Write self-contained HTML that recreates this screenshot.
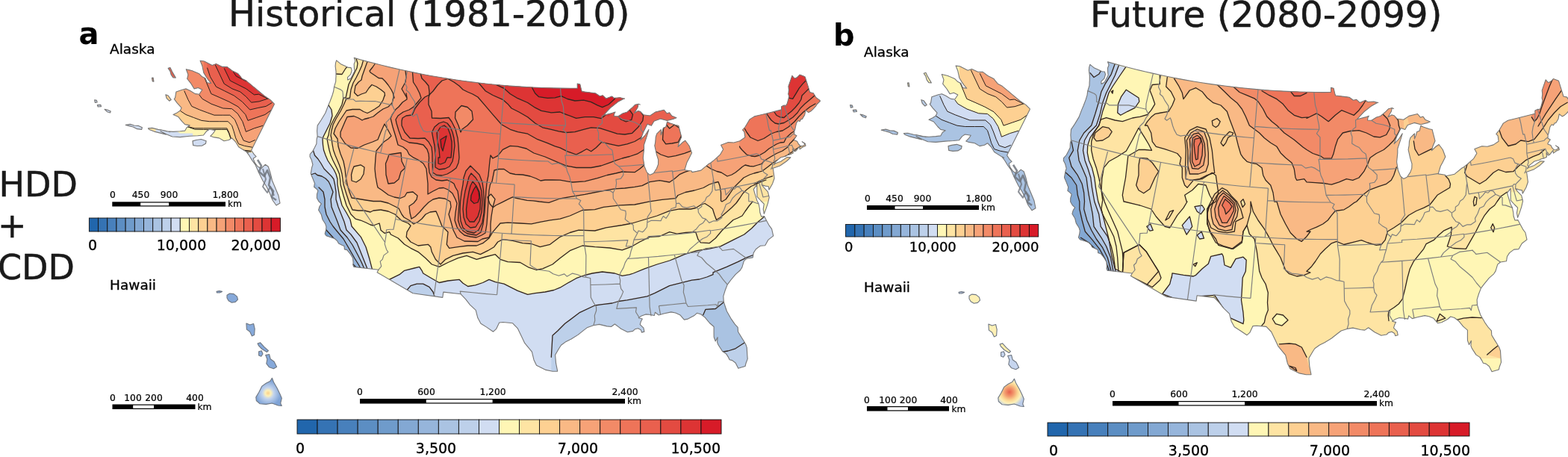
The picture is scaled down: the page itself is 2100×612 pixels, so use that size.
<!DOCTYPE html>
<html lang="en">
<head>
<meta charset="utf-8">
<title>HDD + CDD: Historical (1981-2010) vs Future (2080-2099)</title>
<style>
html,body{margin:0;padding:0;background:#fff;}
body{width:2100px;height:612px;overflow:hidden;}
svg{display:block;font-family:'DejaVu Sans', 'Liberation Sans', sans-serif;}
</style>
</head>
<body>
<svg width="2100" height="612" viewBox="0 0 2100 612">
<rect x="0" y="0" width="2100" height="612" fill="#ffffff"/>
<text x="306.1" y="35.4" font-size="47.4" text-anchor="start" font-weight="normal" fill="#1a1a1a" stroke="#1a1a1a" stroke-width="0.5" stroke-linejoin="round" textLength="537.4" lengthAdjust="spacingAndGlyphs">Historical (1981-2010)</text>
<text x="1460" y="35.5" font-size="47.4" text-anchor="start" font-weight="normal" fill="#1a1a1a" stroke="#1a1a1a" stroke-width="0.5" stroke-linejoin="round" textLength="471.5" lengthAdjust="spacingAndGlyphs">Future (2080-2099)</text>
<text x="105.5" y="59" font-size="40" text-anchor="start" font-weight="bold" fill="#000"  >a</text>
<text x="1116" y="60.5" font-size="40" text-anchor="start" font-weight="bold" fill="#000"  >b</text>
<text x="-1.5" y="262.5" font-size="46" text-anchor="start" font-weight="normal" fill="#1a1a1a" stroke="#1a1a1a" stroke-width="0.5" stroke-linejoin="round" >HDD</text>
<text x="-3" y="318" font-size="46" text-anchor="start" font-weight="normal" fill="#1a1a1a" stroke="#1a1a1a" stroke-width="0.5" stroke-linejoin="round" >+</text>
<text x="-3" y="373.5" font-size="46" text-anchor="start" font-weight="normal" fill="#1a1a1a" stroke="#1a1a1a" stroke-width="0.5" stroke-linejoin="round" >CDD</text>
<text x="147" y="71.7" font-size="18.5" text-anchor="start" font-weight="normal" fill="#000" stroke="#000" stroke-width="0.32" stroke-linejoin="round" >Alaska</text>
<text x="147" y="388" font-size="18.5" text-anchor="start" font-weight="normal" fill="#000" stroke="#000" stroke-width="0.32" stroke-linejoin="round" >Hawaii</text>
<text x="1157" y="75.7" font-size="18.5" text-anchor="start" font-weight="normal" fill="#000" stroke="#000" stroke-width="0.32" stroke-linejoin="round" >Alaska</text>
<text x="1157" y="390.5" font-size="18.5" text-anchor="start" font-weight="normal" fill="#000" stroke="#000" stroke-width="0.32" stroke-linejoin="round" >Hawaii</text>
<g id="conus_a">
<clipPath id="clip_a"><path d="M474.2,77.4L475.8,81.6L474.2,85.8L474.4,91.0L474.9,95.3L472.2,100.5L469.8,104.9L465.7,107.1L465.5,103.7L469.6,99.7L471.2,94.3L470.1,90.6L466.5,90.4L462.5,88.4L456.3,85.7L450.6,80.9L449.5,84.4L449.1,88.6L450.0,95.6L450.0,102.5L449.8,105.0L449.7,109.2L447.5,116.3L446.7,122.0L444.8,128.3L441.9,136.0L439.5,141.6L435.8,151.3L430.1,160.8L425.2,168.1L424.6,175.5L425.1,182.6L424.1,186.6L423.9,192.6L421.3,197.8L418.9,202.3L415.2,206.5L415.0,209.8L417.3,214.3L418.9,220.5L417.6,224.4L416.2,232.6L419.1,239.5L421.4,245.4L420.6,250.3L423.9,253.0L425.9,255.3L424.5,260.1L424.4,265.2L427.1,269.9L430.4,272.9L428.0,276.5L426.6,281.3L430.4,287.5L432.0,294.0L435.7,299.7L437.0,303.8L436.5,308.0L435.2,313.1L437.0,315.8L444.3,318.2L448.2,319.5L451.6,322.6L453.5,326.0L458.5,328.4L461.0,329.5L461.4,333.9L464.7,334.6L467.4,337.8L469.6,340.7L472.6,345.8L473.1,351.8L472.8,354.8L473.9,357.4L507.0,361.2L505.1,364.7L553.0,392.7L592.8,398.4L593.8,391.1L617.1,393.8L623.8,400.9L629.4,408.1L637.2,415.4L639.8,425.6L643.9,433.2L651.7,438.1L660.6,444.2L664.5,440.7L668.7,432.0L673.8,431.5L686.6,432.8L693.4,439.9L698.7,451.0L702.7,459.4L712.4,471.2L715.0,481.9L718.5,489.3L731.0,495.4L740.0,497.2L746.7,497.1L744.6,486.7L743.6,475.3L748.6,466.7L751.5,462.3L758.1,457.4L764.7,454.2L774.1,448.4L781.3,442.6L786.9,438.4L794.8,435.8L802.6,434.4L812.8,436.9L818.5,437.5L823.4,434.0L828.6,437.9L831.6,440.2L836.1,442.4L840.5,444.7L847.7,443.4L850.4,440.8L854.7,439.7L858.4,441.9L859.4,445.1L862.9,444.1L861.9,439.2L857.2,434.6L858.4,430.4L860.3,427.0L855.2,425.7L859.3,422.9L864.8,420.9L869.8,421.3L876.4,422.5L877.4,418.2L881.3,421.2L882.0,422.0L889.0,420.0L898.8,417.9L904.6,419.0L910.7,421.7L916.3,428.1L921.4,427.1L929.5,422.8L933.4,419.3L938.6,420.8L944.2,425.1L950.3,432.5L956.1,437.5L956.1,447.4L956.2,451.5L958.2,457.0L961.1,451.7L960.6,458.4L961.8,461.5L963.7,464.5L967.6,470.5L972.6,473.9L975.5,478.4L977.1,481.8L980.7,482.6L985.1,486.0L988.8,493.3L991.0,492.6L998.0,490.5L999.1,486.2L1001.2,480.6L1000.8,475.2L1000.2,465.4L998.9,461.5L996.8,457.7L992.6,451.0L988.5,444.2L988.1,438.3L984.2,434.1L979.5,427.4L973.4,416.7L970.7,408.8L969.2,403.7L968.8,396.6L971.2,388.8L974.2,381.1L975.9,378.9L978.8,375.0L985.2,367.3L991.3,362.0L993.7,358.3L996.4,349.4L1000.2,346.2L1008.2,344.9L1009.2,338.6L1012.3,333.8L1018.3,329.2L1024.7,328.8L1029.0,321.1L1035.7,315.9L1033.6,306.6L1030.3,302.2L1026.6,295.4L1024.2,290.8L1023.6,289.6L1019.7,290.1L1017.8,284.5L1017.4,279.5L1016.1,273.0L1013.8,268.4L1010.5,257.8L1009.3,253.3L1013.8,247.3L1013.8,253.2L1014.0,263.3L1019.1,269.0L1023.3,273.2L1022.2,280.2L1023.3,286.4L1026.0,279.4L1028.4,272.1L1030.2,264.4L1028.4,256.8L1023.1,251.2L1020.3,247.6L1025.2,249.1L1029.3,249.8L1029.9,254.3L1034.6,245.9L1037.1,238.7L1035.5,226.8L1034.4,224.9L1035.4,225.2L1044.6,222.0L1053.3,216.0L1058.9,210.9L1054.0,210.6L1045.7,216.2L1038.7,218.8L1036.0,220.8L1038.8,216.5L1042.5,213.4L1045.7,210.8L1052.2,209.2L1055.0,207.6L1057.9,207.0L1062.2,205.1L1061.7,199.4L1063.9,202.7L1065.1,202.6L1066.7,201.5L1068.1,199.4L1070.7,196.1L1071.1,199.9L1075.0,197.0L1079.0,195.2L1078.3,192.3L1074.2,189.7L1077.0,191.8L1077.9,193.6L1074.6,195.6L1072.0,195.4L1069.5,193.0L1067.6,189.3L1063.6,187.7L1064.0,185.9L1067.0,181.7L1063.8,180.0L1063.8,175.4L1064.6,173.8L1065.4,170.2L1066.6,164.7L1068.8,161.5L1071.2,162.6L1072.8,159.6L1074.4,159.4L1077.7,153.9L1078.9,147.5L1082.9,150.6L1086.1,148.8L1088.5,146.7L1092.6,142.1L1094.2,139.5L1098.5,135.4L1097.7,134.1L1093.0,130.8L1089.3,124.7L1084.5,123.6L1083.7,120.4L1078.2,102.9L1076.3,102.0L1071.0,100.1L1068.6,102.7L1065.7,104.8L1064.0,104.9L1060.9,101.4L1055.9,115.7L1056.5,120.6L1055.8,125.9L1056.7,129.1L1055.9,132.7L1054.4,138.2L1052.8,141.2L1050.0,141.1L1046.6,142.8L1046.5,146.9L1025.6,152.2L1010.3,155.9L1004.0,159.9L1002.3,162.8L998.3,169.5L994.5,174.0L996.8,176.6L997.8,183.9L990.9,188.7L982.8,191.0L975.4,190.6L965.5,194.2L968.6,200.0L964.4,207.2L956.4,214.4L951.5,218.2L948.7,219.8L938.8,228.1L933.1,229.4L926.8,230.6L926.3,229.0L916.9,227.8L917.9,224.4L920.0,217.4L922.9,212.0L926.5,204.8L923.0,195.3L917.8,188.2L914.0,190.8L908.1,196.5L909.7,190.5L911.6,186.1L912.7,183.5L910.0,173.0L908.8,168.2L905.0,167.6L896.8,164.8L893.6,163.0L891.8,170.0L888.4,171.2L886.8,176.7L885.2,180.7L885.2,173.6L879.7,179.1L878.2,183.7L877.8,190.0L876.8,195.1L879.4,206.8L881.7,214.2L881.5,220.3L879.5,225.5L875.1,232.2L870.4,234.3L866.4,230.9L863.0,222.7L861.3,211.6L862.5,199.8L862.5,194.0L866.7,181.2L868.9,173.6L863.8,181.5L857.8,187.4L861.4,177.6L867.0,166.3L872.4,168.3L875.9,162.2L884.8,159.1L893.5,161.5L902.7,159.1L906.0,157.8L899.9,155.3L896.5,150.8L893.2,152.0L889.2,147.2L877.7,150.1L870.5,155.0L861.8,153.7L857.7,149.4L854.5,148.6L849.6,151.4L854.1,143.7L855.1,139.2L857.2,140.1L855.1,139.2L850.4,140.4L847.0,143.8L839.6,150.2L834.3,151.7L827.5,155.9L822.2,155.7L822.7,152.2L824.0,149.9L819.5,151.6L808.3,154.4L812.9,149.3L817.4,144.5L827.4,136.6L834.4,132.7L836.5,131.9L835.2,132.0L830.7,130.7L822.3,131.2L819.4,128.9L811.8,132.0L807.2,127.8L803.3,128.8L797.7,124.9L792.7,124.3L779.4,122.6L778.5,120.2L776.8,112.9L773.2,112.0L773.3,118.1L764.0,118.2L753.0,118.1L742.0,117.9L731.0,117.7L720.1,117.3L709.1,116.7L698.2,116.1L687.2,115.4L676.3,114.5L665.4,113.5L654.4,112.5L643.5,111.2L632.6,109.9L621.8,108.5L610.9,107.0L600.1,105.3L589.2,103.5L578.4,101.7L567.6,99.7L556.9,97.6L546.1,95.3L535.4,93.0L524.7,90.6L514.1,88.0L503.4,85.3L492.8,82.6L482.2,79.7Z"/></clipPath>
<g clip-path="url(#clip_a)">
<rect x="410" y="72" width="694" height="430" fill="#d1ddf2"/>
<path d="M419.0,200.0L421.5,208.0L426.0,213.0L430.0,219.0L434.0,226.0L439.0,231.0L444.0,236.0L447.0,240.0L448.5,247.0L450.0,257.0L450.0,267.0L453.0,277.0L457.0,287.0L461.0,297.0L464.0,308.0L470.0,314.0L478.0,325.0L484.0,340.0L488.0,350.0L492.0,360.0L494.0,366.0L492.0,420.0L380.0,420.0L380.0,190.0Z" fill="#bdd0ea"/>
<path d="M738.3,478.3L739.2,463.3L740.0,449.2L746.7,443.3L756.7,433.3L776.7,418.3L796.7,409.0L806.7,407.7L820.0,406.0L828.3,403.5L840.0,401.8L853.3,399.3L866.7,396.8L876.7,392.7L886.7,387.7L896.7,382.7L906.7,380.2L916.7,377.7L926.7,375.2L936.7,374.0L946.7,371.0L955.0,367.7L955.0,364.8L973.3,357.3L988.3,350.7L1000.0,344.8L1010.0,341.0L1100.0,341.0L1100.0,620.0L738.3,620.0Z" fill="#bdd0ea"/>
<path d="M545.0,388.5L550.0,382.7L558.3,380.2L566.7,380.2L575.0,384.3L580.0,391.0L582.3,397.7L585.0,420.0L540.0,420.0Z" fill="#bdd0ea"/>
<path d="M416.0,234.0L422.0,232.0L425.0,234.5L431.0,236.0L436.0,239.0L440.0,243.0L442.0,247.0L446.0,257.0L443.0,267.0L444.0,277.0L448.0,287.0L452.0,297.0L456.0,308.0L465.0,318.0L472.0,328.0L479.0,341.0L484.0,351.0L488.0,360.0L490.0,366.0L492.0,420.0L380.0,420.0L380.0,190.0Z" fill="#aac3e2"/>
<path d="M941.7,421.8L945.0,414.3L958.3,413.5L969.2,404.7L1010.0,404.0L1010.0,520.0L935.0,520.0L935.0,422.0Z" fill="#aac3e2"/>
<path d="M963.0,472.0L975.0,470.0L985.0,466.8L997.0,459.0L1010.0,459.0L1010.0,520.0L950.0,520.0Z" fill="#bdd0ea"/>
<path d="M427.0,251.0L433.0,257.0L435.0,267.0L435.0,277.0L437.0,287.0L442.0,297.0L446.0,303.0L450.0,308.0L460.0,320.0L467.0,332.0L475.0,346.0L480.0,354.0L484.0,361.0L486.0,366.0L492.0,420.0L380.0,420.0L380.0,190.0Z" fill="#96b5db"/>
<path d="M437.0,308.0L446.0,318.0L455.0,330.0L463.0,342.0L471.0,352.0L477.0,358.0L480.0,362.0L482.0,366.0L492.0,420.0L380.0,420.0L380.0,190.0Z" fill="#83a8d3"/>
<path d="M444.0,324.0L453.0,336.0L461.0,346.0L468.0,354.0L474.0,360.0L476.0,366.0L492.0,420.0L380.0,420.0L380.0,190.0Z" fill="#6f9bcb"/>
<path d="M439.5,140.0L440.5,141.5L444.0,147.0L445.0,155.0L442.0,165.0L437.0,175.0L433.0,183.0L432.0,186.0L432.5,194.0L433.5,201.0L436.0,208.0L439.0,215.0L443.0,221.0L447.0,227.0L450.0,233.0L452.0,240.0L452.0,247.0L454.5,262.0L458.0,275.0L464.0,285.0L469.0,294.0L471.0,303.0L483.3,317.3L490.0,330.7L495.0,347.3L498.7,361.5L505.0,372.0L515.0,378.0L520.8,374.7L535.0,367.7L541.7,362.3L555.0,359.0L561.7,357.3L565.0,362.3L566.7,366.0L575.0,371.0L585.0,376.8L588.3,378.5L600.0,376.0L615.0,374.3L620.0,379.3L626.7,383.5L636.7,381.8L646.7,378.5L655.0,374.3L663.3,377.7L675.0,380.2L683.3,384.3L693.3,389.3L706.7,394.3L716.7,392.7L730.0,391.0L741.7,388.5L750.0,385.2L760.0,379.3L771.7,372.7L783.3,368.5L793.3,366.0L806.7,364.0L823.3,366.0L833.3,369.3L843.3,367.7L848.3,366.0L863.3,359.8L880.0,354.0L896.7,349.0L905.0,345.7L916.7,340.7L933.3,335.7L950.0,333.2L965.0,329.8L983.3,320.7L996.7,314.0L1006.7,305.7L1015.0,297.3L1025.0,289.0L1180.0,290.0L1180.0,40.0L380.0,40.0L380.0,145.0Z" fill="#fff6b5"/>
<path d="M477.0,78.5L479.0,85.0L478.0,91.0L474.0,99.0L470.0,107.0L467.0,113.0L465.0,122.0L463.0,131.2L460.0,131.0L458.0,140.0L453.0,150.0L447.0,160.0L443.0,168.0L441.0,175.0L440.0,181.0L438.0,186.0L439.5,194.0L441.0,201.0L443.0,208.0L446.0,215.0L449.0,221.0L452.0,227.0L454.5,233.0L455.5,240.0L456.0,247.0L460.0,262.0L464.0,275.0L470.0,287.0L476.0,293.0L483.0,295.0L490.0,298.0L496.0,301.0L500.0,302.0L508.0,299.0L509.0,303.0L510.0,308.2L515.0,312.3L521.7,310.7L523.3,314.0L533.3,319.0L541.7,327.3L550.0,332.3L560.0,337.3L570.0,345.7L578.3,354.0L588.3,357.3L600.0,351.5L613.3,345.7L625.0,342.3L638.3,347.3L650.0,344.0L663.3,340.7L670.0,347.3L680.0,350.7L696.7,351.5L708.3,358.2L718.3,361.5L726.7,359.8L740.0,354.0L750.0,345.7L763.3,335.7L780.0,329.0L796.7,330.7L816.7,332.0L833.3,334.8L845.0,330.7L856.7,324.0L870.0,317.3L883.3,316.5L896.7,310.7L906.7,313.2L918.3,311.5L931.7,310.7L935.0,320.7L938.3,324.8L950.0,325.7L958.3,319.0L966.7,309.0L975.0,301.0L982.0,294.5L988.0,292.0L994.0,289.0L998.0,283.0L1003.0,276.0L1008.0,270.0L1180.0,270.0L1180.0,40.0L477.0,40.0Z" fill="#fee4a3"/>
<path d="M449.5,99.0L458.0,99.5L463.0,91.5L465.0,89.5L470.0,70.0L440.0,70.0L440.0,99.0Z" fill="#fee4a3"/>
<path d="M486.5,80.8L484.5,88.0L481.0,96.0L477.0,104.0L473.0,111.0L470.0,120.0L468.5,131.2L464.0,132.0L460.0,141.0L456.0,149.0L450.0,159.0L446.0,167.0L444.0,175.0L443.0,181.0L444.0,186.0L445.0,193.0L446.5,201.0L449.0,208.0L452.0,215.0L454.5,221.0L456.5,227.0L458.0,233.0L459.0,240.0L460.0,247.0L464.0,260.0L468.0,272.0L472.0,281.0L480.0,282.0L488.0,282.0L496.0,284.0L500.0,282.0L510.0,281.0L520.0,283.0L529.0,287.0L533.0,291.0L538.3,295.7L546.7,299.0L550.0,302.3L545.0,310.7L544.2,317.3L550.0,324.0L560.0,329.0L573.3,327.3L576.7,330.7L578.3,337.3L583.3,347.3L590.0,354.0L596.7,347.3L606.7,342.3L620.0,339.0L633.3,337.3L643.3,340.7L653.3,335.7L661.7,330.7L666.7,324.0L673.3,320.7L686.7,322.3L700.0,325.7L711.7,326.5L723.3,330.7L736.7,327.3L750.0,317.3L763.3,311.5L775.0,308.2L796.7,309.0L811.7,304.8L833.3,301.5L846.7,299.0L863.3,294.0L880.0,289.0L896.7,282.3L910.0,279.8L925.0,280.0L932.0,278.5L939.0,274.0L944.0,272.5L951.0,277.0L954.5,280.0L957.0,288.0L959.5,294.5L965.0,291.0L972.0,285.0L980.0,278.0L986.0,272.0L991.0,265.0L995.0,259.0L1000.0,254.0L1006.0,249.5L1012.0,247.0L1018.0,244.0L1026.0,241.0L1010.0,246.0L1018.0,242.0L1025.0,239.0L1034.5,235.8L1180.0,235.8L1180.0,40.0L486.5,40.0Z" fill="#fdd092"/>
<path d="M492.0,82.5L490.0,88.0L487.5,95.0L485.0,102.0L484.0,107.0L480.0,110.0L476.0,115.0L474.5,124.0L479.0,128.5L484.0,126.0L490.0,124.0L494.0,118.0L498.0,113.5L504.0,116.0L510.0,120.0L515.0,124.0L515.5,128.0L515.0,128.0L513.0,134.0L508.0,142.0L502.0,146.0L496.0,149.5L492.0,151.5L487.0,149.5L482.0,146.5L472.0,146.5L464.0,148.0L460.0,154.0L454.0,163.0L449.0,172.0L447.0,179.0L452.0,186.0L453.0,196.0L456.0,206.0L460.0,216.0L462.0,226.0L463.0,236.0L465.0,247.0L468.0,257.0L471.0,265.0L478.0,266.0L490.0,268.0L500.0,269.5L510.0,269.5L520.0,272.0L528.0,276.0L534.0,279.0L538.0,287.0L541.0,291.0L548.0,295.0L554.0,300.0L560.0,297.0L565.0,293.0L570.0,287.0L576.0,284.0L584.0,283.0L587.0,290.0L592.0,303.0L593.3,304.0L600.0,310.7L598.3,327.3L601.7,332.3L613.3,330.7L626.7,329.0L638.3,329.0L646.7,325.7L655.0,319.0L660.0,310.7L670.0,299.0L680.0,298.2L696.7,299.0L711.7,299.8L723.3,297.3L736.7,294.8L750.0,293.2L763.3,289.0L780.0,281.5L796.7,280.7L808.3,277.3L830.0,274.8L850.0,274.0L870.0,269.8L886.7,267.3L905.0,265.7L908.0,261.5L918.0,257.5L930.0,255.0L942.0,251.5L950.0,247.0L956.0,245.0L962.0,243.5L964.0,249.0L965.5,258.0L965.5,269.0L967.0,270.0L972.0,267.0L977.0,260.0L983.0,251.0L988.0,246.0L994.0,240.0L996.0,238.0L1004.0,234.0L1010.0,232.0L1016.0,230.5L1021.0,229.0L1029.0,223.0L1034.0,219.0L1040.0,215.0L1047.0,211.5L1054.0,208.0L1060.0,204.0L1068.0,198.5L1073.0,195.5L1180.0,195.5L1180.0,40.0L492.0,40.0Z" fill="#f9b985"/>
<path d="M502.5,85.0L499.0,90.0L495.0,95.0L496.0,97.0L502.0,101.0L507.0,104.5L512.0,105.0L516.0,109.0L520.0,114.0L524.0,120.0L527.0,126.0L528.0,131.2L526.5,125.0L527.0,131.0L525.0,138.0L520.0,143.0L513.0,146.0L506.0,151.0L500.0,156.0L494.0,158.0L488.0,159.5L485.0,161.0L480.0,158.0L474.0,155.5L465.0,156.5L462.0,163.0L459.0,170.0L456.0,177.0L456.0,183.0L458.0,186.0L462.0,192.0L470.0,198.0L479.0,198.5L488.0,194.0L499.0,190.0L506.0,187.0L510.0,177.0L515.0,166.0L519.0,173.0L524.0,182.0L520.0,186.0L514.0,190.0L504.0,202.0L503.0,211.0L502.0,226.0L503.0,236.0L505.0,247.2L506.0,251.0L512.0,255.0L520.0,261.0L528.0,264.0L536.0,265.5L542.0,263.0L545.0,258.0L553.0,257.0L559.0,262.0L558.0,267.0L554.0,272.0L548.0,276.0L549.0,285.0L551.0,293.0L556.0,290.0L562.0,284.0L568.0,277.0L574.0,271.0L580.0,267.0L588.0,265.0L596.0,266.0L603.0,270.0L604.0,277.0L601.0,287.0L604.0,297.0L607.0,308.0L612.0,318.0L622.0,323.0L640.0,323.5L646.0,320.0L655.0,318.0L657.0,312.0L657.0,300.0L658.0,290.0L659.5,281.0L660.0,278.0L664.0,275.0L672.5,270.8L680.8,266.7L686.7,263.8L690.0,265.0L697.5,266.7L705.8,268.3L714.0,268.8L722.5,270.0L735.0,271.3L750.0,266.0L763.3,263.7L783.3,260.3L800.0,257.0L818.3,253.7L823.3,252.8L836.7,252.0L850.0,250.3L860.0,248.7L870.0,243.7L883.3,241.7L896.7,244.0L903.3,239.5L910.0,233.7L916.7,230.7L923.3,228.3L925.0,200.0L925.0,40.0L502.0,40.0Z" fill="#f6a277"/>
<path d="M946.0,222.0L952.0,226.0L960.0,229.5L966.0,231.0L974.0,236.0L980.0,234.0L985.0,231.0L990.0,227.0L994.0,223.5L998.0,221.0L1004.0,222.5L1009.0,222.8L1015.0,221.0L1020.0,219.5L1024.0,215.0L1033.0,209.5L1040.0,205.5L1048.0,202.0L1055.0,197.0L1058.0,192.0L1059.0,191.2L1064.0,186.0L1067.0,183.0L1100.0,183.0L1100.0,40.0L940.0,40.0L940.0,222.0Z" fill="#f6a277"/>
<path d="M543.0,95.0L544.0,103.0L543.0,110.0L538.0,119.0L542.0,126.0L545.0,131.2L544.0,125.0L545.0,133.0L539.0,137.0L534.0,143.0L530.0,146.5L525.0,154.0L523.0,159.0L523.0,158.0L526.0,170.0L530.0,183.0L533.0,194.0L540.0,197.0L545.0,201.0L548.0,207.0L554.0,211.2L560.0,214.0L567.0,219.0L571.0,226.0L572.0,236.0L573.0,246.0L573.0,260.0L580.0,256.0L588.0,252.0L594.0,251.5L600.0,254.0L606.0,259.0L610.0,267.0L612.0,272.2L610.0,285.0L609.0,295.0L612.0,304.0L616.0,310.0L622.0,315.0L630.0,317.0L638.0,318.0L645.0,315.0L650.0,312.0L652.0,300.0L653.0,285.0L654.0,270.0L655.0,255.0L656.5,247.0L659.0,243.0L660.0,238.0L662.0,228.0L668.0,226.5L675.0,226.5L683.0,232.0L690.0,233.5L700.0,234.0L710.0,236.0L718.0,239.0L724.0,242.0L730.0,241.0L740.0,241.0L750.0,241.2L766.7,244.0L783.3,242.8L800.0,238.7L813.3,234.5L825.0,232.0L833.3,230.0L840.0,230.3L850.0,230.7L856.7,226.2L864.7,219.5L880.0,215.0L880.0,40.0L543.0,40.0Z" fill="#f28a67"/>
<path d="M877.5,202.3L885.0,207.0L895.0,210.3L905.0,208.7L916.7,205.3L926.7,201.7L935.0,195.0L935.0,140.0L872.0,140.0Z" fill="#f28a67"/>
<path d="M990.5,196.0L991.0,197.5L994.0,201.0L1000.0,207.0L1006.0,209.0L1011.0,209.5L1017.0,208.0L1024.0,204.0L1030.0,199.0L1035.0,196.0L1040.0,193.0L1045.0,191.0L1050.0,190.5L1053.0,184.5L1060.0,178.0L1065.0,175.0L1068.0,172.0L1100.0,172.0L1100.0,40.0L985.0,40.0Z" fill="#f28a67"/>
<path d="M521.0,207.0L537.0,204.5L538.0,216.0L542.5,225.0L537.0,230.0L534.0,240.0L528.0,245.0L520.0,246.0L517.0,234.0L516.5,219.0L519.0,213.0Z" fill="#f28a67"/>
<path d="M552.5,97.0L553.0,103.0L553.5,110.0L558.0,117.0L562.0,125.0L564.0,131.2L560.0,136.0L554.0,143.0L548.0,147.0L540.0,150.0L533.0,155.0L530.0,160.0L531.0,165.0L534.0,175.0L538.0,186.0L548.0,191.0L558.0,192.0L567.0,194.0L572.0,200.0L574.0,206.0L574.5,211.2L574.0,221.0L575.0,231.0L578.0,237.0L584.0,241.0L592.0,242.0L599.0,241.0L605.0,244.0L608.0,246.0L610.0,251.0L613.0,256.0L614.0,263.0L615.0,272.2L614.0,285.0L613.5,295.0L616.0,303.0L620.0,309.0L626.0,313.0L638.0,315.0L644.0,311.0L647.0,300.0L649.0,285.0L650.0,270.0L651.0,255.0L652.0,245.0L654.0,235.0L655.0,225.0L656.0,215.0L657.0,208.0L660.0,212.0L666.7,208.7L673.3,200.3L683.3,195.3L693.3,196.2L705.0,199.0L715.0,205.0L730.0,210.0L750.0,218.7L758.3,222.0L771.7,224.5L791.7,224.5L805.0,222.0L816.7,217.8L823.3,215.3L833.3,212.0L843.3,209.5L853.3,206.2L862.0,200.7L870.0,205.0L882.0,174.0L896.0,167.0L915.0,164.0L915.0,40.0L552.0,40.0Z" fill="#ee7459"/>
<path d="M890.8,165.3L888.3,173.7L887.5,187.0L891.7,192.8L900.0,192.0L908.3,190.3L912.5,182.0L910.8,172.0L903.3,167.0L896.7,172.0Z" fill="#ee7459"/>
<path d="M997.5,172.5L1000.0,177.0L1005.0,184.0L1015.0,188.5L1023.0,185.5L1033.0,179.0L1040.0,176.5L1048.0,175.0L1056.0,170.0L1064.0,163.0L1070.0,156.0L1076.0,150.0L1085.0,143.0L1092.0,139.0L1100.0,139.0L1100.0,40.0L995.0,40.0Z" fill="#ee7459"/>
<path d="M563.5,99.5L565.0,105.0L570.0,110.0L574.0,115.0L575.0,123.0L575.0,127.0L580.0,122.0L586.0,114.0L592.0,108.0L600.0,105.5L600.0,90.0L563.0,90.0Z" fill="#e9604e"/>
<path d="M575.0,127.0L574.0,131.0L574.0,140.0L578.0,149.0L578.5,158.0L590.0,158.5L601.0,157.5L605.0,163.0L610.0,173.0L613.0,185.0L614.0,195.0L615.0,211.0L614.0,218.0L611.0,225.0L605.0,229.5L599.0,233.0L592.0,235.0L585.0,234.5L579.5,231.0L579.0,211.0L579.0,206.0L578.0,197.0L574.0,190.0L569.0,185.0L560.0,185.5L549.0,185.0L542.0,177.0L538.0,168.0L538.0,162.0L539.0,158.0L544.0,155.0L552.0,154.0L556.0,145.0L562.0,137.0L569.0,130.0Z" fill="#e9604e"/>
<path d="M600.0,105.5L608.0,110.0L615.0,115.0L620.0,120.0L626.0,123.0L633.0,126.0L640.0,130.0L650.0,141.7L660.0,153.3L671.7,166.7L683.3,173.3L693.3,176.7L706.7,179.2L720.0,186.7L733.3,191.7L743.3,195.8L750.0,197.8L760.0,202.8L771.7,207.0L780.0,202.8L785.8,199.5L791.7,202.8L798.3,197.8L805.8,190.3L816.7,192.8L828.3,195.3L840.0,192.8L850.0,189.5L858.3,184.5L865.0,177.8L872.0,182.0L882.0,174.0L896.0,167.0L915.0,164.0L915.0,40.0L600.0,40.0Z" fill="#e9604e"/>
<path d="M1027.0,152.5L1030.0,157.0L1033.0,161.0L1038.0,165.0L1043.0,166.0L1050.0,164.5L1056.0,161.0L1062.0,157.0L1068.0,151.0L1072.0,145.0L1078.0,139.0L1084.0,134.0L1091.0,128.0L1100.0,128.0L1100.0,40.0L1027.0,40.0Z" fill="#e9604e"/>
<path d="M630.0,222.0L636.0,228.0L642.0,234.0L646.0,244.0L647.5,255.0L648.5,270.0L648.0,285.0L646.0,298.0L641.0,308.0L635.0,312.0L626.0,310.0L620.0,305.0L617.0,296.0L616.0,284.0L616.5,270.0L618.0,258.0L620.0,247.0L621.0,238.0L624.0,229.0Z" fill="#e9604e"/>
<path d="M641.0,111.0L650.0,121.7L660.0,127.5L673.3,133.3L680.0,139.2L685.0,145.0L695.0,150.0L706.7,156.7L716.7,165.0L726.7,170.8L738.3,173.3L748.3,175.8L758.3,177.5L770.0,176.7L781.7,173.3L791.7,170.8L803.3,171.7L816.7,175.8L826.7,179.2L836.7,180.0L846.7,178.3L855.0,170.0L860.8,161.7L861.7,155.0L858.3,150.0L858.0,40.0L641.0,40.0Z" fill="#e34b41"/>
<path d="M1037.0,150.0L1040.0,154.5L1045.0,157.0L1050.0,157.5L1055.0,153.0L1060.0,149.0L1065.0,144.0L1070.0,138.0L1073.0,133.0L1074.0,128.0L1078.9,123.1L1084.0,118.0L1100.0,118.0L1100.0,40.0L1037.0,40.0Z" fill="#e34b41"/>
<path d="M578.5,177.0L582.0,170.0L588.0,165.0L594.0,163.0L599.0,165.0L603.0,170.0L606.0,177.0L608.0,185.0L609.0,195.0L608.0,203.0L607.0,211.2L606.0,216.0L602.0,223.0L596.0,226.0L588.0,227.0L583.0,224.0L583.0,211.0L583.0,205.0L582.0,195.0L580.0,185.0Z" fill="#e34b41"/>
<path d="M631.0,232.0L637.0,238.0L642.0,246.0L645.0,256.0L646.0,270.0L645.0,284.0L642.0,296.0L637.0,304.0L630.0,305.0L624.0,300.0L621.0,291.0L620.0,280.0L621.0,268.0L623.0,256.0L626.0,245.0L628.0,237.0Z" fill="#e34b41"/>
<path d="M665.0,113.7L675.0,118.3L683.3,125.8L693.3,131.7L706.7,137.5L716.7,144.2L725.0,148.3L738.3,150.8L750.0,150.0L758.3,153.3L771.7,158.3L783.3,156.7L795.0,156.7L805.0,158.7L810.8,154.2L815.0,156.0L838.0,134.0L838.0,40.0L665.0,40.0Z" fill="#dd3434"/>
<path d="M826.7,154.2L831.7,160.0L838.3,163.0L845.8,160.3L847.5,153.3L843.3,147.5L843.0,130.0L826.0,130.0Z" fill="#dd3434"/>
<path d="M1056.2,131.1L1061.7,132.3L1066.6,124.3L1070.3,118.2L1075.2,112.1L1080.1,107.2L1080.0,90.0L1056.0,90.0Z" fill="#dd3434"/>
<path d="M585.0,178.0L590.0,170.0L595.0,168.0L600.0,172.0L603.0,180.0L605.0,190.0L605.0,200.0L604.0,211.2L599.0,211.0L596.0,217.5L590.0,220.0L587.0,219.0L587.0,211.0L589.0,211.2L588.0,200.0L586.0,190.0Z" fill="#dd3434"/>
<path d="M633.0,243.0L638.0,249.0L642.0,257.0L643.5,268.0L643.0,280.0L640.0,290.0L635.0,297.0L629.0,297.0L625.0,291.0L624.5,280.0L626.0,268.0L628.0,257.0L630.0,249.0Z" fill="#dd3434"/>
<path d="M712.5,117.2L716.7,125.0L721.7,129.7L733.3,131.3L743.3,130.8L751.7,128.7L760.0,132.5L770.0,135.0L781.7,134.2L791.7,136.7L800.0,140.8L806.7,143.7L815.0,140.0L822.5,133.3L824.2,130.8L830.0,95.0L710.0,95.0Z" fill="#d71b28"/>
<path d="M590.0,187.0L598.0,182.0L596.0,190.0L593.0,202.0L591.0,197.0Z" fill="#d71b28"/>
<path d="M637.5,249.2L641.0,256.7L642.0,265.0L640.0,271.0L635.0,272.5L630.5,268.3L631.0,261.7L634.2,254.2Z" fill="#d71b28"/>
<path d="M610.0,150.0L618.0,141.5L626.0,143.5L632.0,149.0L633.5,160.0L626.0,168.0L619.0,173.0L617.0,177.0L614.0,168.0L609.5,158.0Z" fill="#f28a67"/>
<path d="M474.0,223.0L483.0,220.8L488.0,224.0L487.0,233.0L483.0,240.0L477.0,244.0L471.0,242.0L470.5,234.0L472.0,228.0Z" fill="#fdd092"/>
<path d="M653.0,264.0L657.5,260.0L663.0,266.7L660.0,277.5L656.0,273.0Z" fill="#f9b985"/>
<g fill="none" stroke="#33261f" stroke-width="1.3" stroke-linejoin="round" stroke-linecap="round">
<path d="M419.0,200.0L421.5,208.0L426.0,213.0L430.0,219.0L434.0,226.0L439.0,231.0L444.0,236.0L447.0,240.0L448.5,247.0L450.0,257.0L450.0,267.0L453.0,277.0L457.0,287.0L461.0,297.0L464.0,308.0L470.0,314.0L478.0,325.0L484.0,340.0L488.0,350.0L492.0,360.0"/>
<path d="M738.3,478.3L739.2,463.3L740.0,449.2L746.7,443.3L756.7,433.3L776.7,418.3L796.7,409.0L806.7,407.7L820.0,406.0L828.3,403.5L840.0,401.8L853.3,399.3L866.7,396.8L876.7,392.7L886.7,387.7L896.7,382.7L906.7,380.2L916.7,377.7L926.7,375.2L936.7,374.0L946.7,371.0L955.0,367.7L955.0,364.8L973.3,357.3L988.3,350.7L1000.0,344.8L1010.0,341.0"/>
<path d="M545.0,388.5L550.0,382.7L558.3,380.2L566.7,380.2L575.0,384.3L580.0,391.0L582.3,397.7"/>
<path d="M416.0,234.0L422.0,232.0L425.0,234.5L431.0,236.0L436.0,239.0L440.0,243.0L442.0,247.0L446.0,257.0L443.0,267.0L444.0,277.0L448.0,287.0L452.0,297.0L456.0,308.0L465.0,318.0L472.0,328.0L479.0,341.0L484.0,351.0L488.0,360.0"/>
<path d="M941.7,421.8L945.0,414.3L958.3,413.5L969.2,404.7"/>
<path d="M963.0,472.0L975.0,470.0L985.0,466.8L997.0,459.0"/>
<path d="M427.0,251.0L433.0,257.0L435.0,267.0L435.0,277.0L437.0,287.0L442.0,297.0L446.0,303.0L450.0,308.0L460.0,320.0L467.0,332.0L475.0,346.0L480.0,354.0L484.0,361.0"/>
<path d="M437.0,308.0L446.0,318.0L455.0,330.0L463.0,342.0L471.0,352.0L477.0,358.0L480.0,362.0"/>
<path d="M444.0,324.0L453.0,336.0L461.0,346.0L468.0,354.0L474.0,360.0"/>
<path d="M439.5,140.0L440.5,141.5L444.0,147.0L445.0,155.0L442.0,165.0L437.0,175.0L433.0,183.0L432.0,186.0L432.5,194.0L433.5,201.0L436.0,208.0L439.0,215.0L443.0,221.0L447.0,227.0L450.0,233.0L452.0,240.0L452.0,247.0L454.5,262.0L458.0,275.0L464.0,285.0L469.0,294.0L471.0,303.0L483.3,317.3L490.0,330.7L495.0,347.3L498.7,361.5L505.0,372.0L515.0,378.0L520.8,374.7L535.0,367.7L541.7,362.3L555.0,359.0L561.7,357.3L565.0,362.3L566.7,366.0L575.0,371.0L585.0,376.8L588.3,378.5L600.0,376.0L615.0,374.3L620.0,379.3L626.7,383.5L636.7,381.8L646.7,378.5L655.0,374.3L663.3,377.7L675.0,380.2L683.3,384.3L693.3,389.3L706.7,394.3L716.7,392.7L730.0,391.0L741.7,388.5L750.0,385.2L760.0,379.3L771.7,372.7L783.3,368.5L793.3,366.0L806.7,364.0L823.3,366.0L833.3,369.3L843.3,367.7L848.3,366.0L863.3,359.8L880.0,354.0L896.7,349.0L905.0,345.7L916.7,340.7L933.3,335.7L950.0,333.2L965.0,329.8L983.3,320.7L996.7,314.0L1006.7,305.7L1015.0,297.3L1025.0,289.0"/>
<path d="M477.0,78.5L479.0,85.0L478.0,91.0L474.0,99.0L470.0,107.0L467.0,113.0L465.0,122.0L463.0,131.2L460.0,131.0L458.0,140.0L453.0,150.0L447.0,160.0L443.0,168.0L441.0,175.0L440.0,181.0L438.0,186.0L439.5,194.0L441.0,201.0L443.0,208.0L446.0,215.0L449.0,221.0L452.0,227.0L454.5,233.0L455.5,240.0L456.0,247.0L460.0,262.0L464.0,275.0L470.0,287.0L476.0,293.0L483.0,295.0L490.0,298.0L496.0,301.0L500.0,302.0L508.0,299.0L509.0,303.0L510.0,308.2L515.0,312.3L521.7,310.7L523.3,314.0L533.3,319.0L541.7,327.3L550.0,332.3L560.0,337.3L570.0,345.7L578.3,354.0L588.3,357.3L600.0,351.5L613.3,345.7L625.0,342.3L638.3,347.3L650.0,344.0L663.3,340.7L670.0,347.3L680.0,350.7L696.7,351.5L708.3,358.2L718.3,361.5L726.7,359.8L740.0,354.0L750.0,345.7L763.3,335.7L780.0,329.0L796.7,330.7L816.7,332.0L833.3,334.8L845.0,330.7L856.7,324.0L870.0,317.3L883.3,316.5L896.7,310.7L906.7,313.2L918.3,311.5L931.7,310.7L935.0,320.7L938.3,324.8L950.0,325.7L958.3,319.0L966.7,309.0L975.0,301.0L982.0,294.5L988.0,292.0L994.0,289.0L998.0,283.0L1003.0,276.0L1008.0,270.0"/>
<path d="M449.5,99.0L458.0,99.5L463.0,91.5L465.0,89.5"/>
<path d="M486.5,80.8L484.5,88.0L481.0,96.0L477.0,104.0L473.0,111.0L470.0,120.0L468.5,131.2L464.0,132.0L460.0,141.0L456.0,149.0L450.0,159.0L446.0,167.0L444.0,175.0L443.0,181.0L444.0,186.0L445.0,193.0L446.5,201.0L449.0,208.0L452.0,215.0L454.5,221.0L456.5,227.0L458.0,233.0L459.0,240.0L460.0,247.0L464.0,260.0L468.0,272.0L472.0,281.0L480.0,282.0L488.0,282.0L496.0,284.0L500.0,282.0L510.0,281.0L520.0,283.0L529.0,287.0L533.0,291.0L538.3,295.7L546.7,299.0L550.0,302.3L545.0,310.7L544.2,317.3L550.0,324.0L560.0,329.0L573.3,327.3L576.7,330.7L578.3,337.3L583.3,347.3L590.0,354.0L596.7,347.3L606.7,342.3L620.0,339.0L633.3,337.3L643.3,340.7L653.3,335.7L661.7,330.7L666.7,324.0L673.3,320.7L686.7,322.3L700.0,325.7L711.7,326.5L723.3,330.7L736.7,327.3L750.0,317.3L763.3,311.5L775.0,308.2L796.7,309.0L811.7,304.8L833.3,301.5L846.7,299.0L863.3,294.0L880.0,289.0L896.7,282.3L910.0,279.8L925.0,280.0L932.0,278.5L939.0,274.0L944.0,272.5L951.0,277.0L954.5,280.0L957.0,288.0L959.5,294.5L965.0,291.0L972.0,285.0L980.0,278.0L986.0,272.0L991.0,265.0L995.0,259.0L1000.0,254.0L1006.0,249.5L1012.0,247.0L1018.0,244.0L1026.0,241.0L1010.0,246.0L1018.0,242.0L1025.0,239.0L1034.5,235.8"/>
<path d="M492.0,82.5L490.0,88.0L487.5,95.0L485.0,102.0L484.0,107.0L480.0,110.0L476.0,115.0L474.5,124.0L479.0,128.5L484.0,126.0L490.0,124.0L494.0,118.0L498.0,113.5L504.0,116.0L510.0,120.0L515.0,124.0L515.5,128.0L515.0,128.0L513.0,134.0L508.0,142.0L502.0,146.0L496.0,149.5L492.0,151.5L487.0,149.5L482.0,146.5L472.0,146.5L464.0,148.0L460.0,154.0L454.0,163.0L449.0,172.0L447.0,179.0L452.0,186.0L453.0,196.0L456.0,206.0L460.0,216.0L462.0,226.0L463.0,236.0L465.0,247.0L468.0,257.0L471.0,265.0L478.0,266.0L490.0,268.0L500.0,269.5L510.0,269.5L520.0,272.0L528.0,276.0L534.0,279.0L538.0,287.0L541.0,291.0L548.0,295.0L554.0,300.0L560.0,297.0L565.0,293.0L570.0,287.0L576.0,284.0L584.0,283.0L587.0,290.0L592.0,303.0L593.3,304.0L600.0,310.7L598.3,327.3L601.7,332.3L613.3,330.7L626.7,329.0L638.3,329.0L646.7,325.7L655.0,319.0L660.0,310.7L670.0,299.0L680.0,298.2L696.7,299.0L711.7,299.8L723.3,297.3L736.7,294.8L750.0,293.2L763.3,289.0L780.0,281.5L796.7,280.7L808.3,277.3L830.0,274.8L850.0,274.0L870.0,269.8L886.7,267.3L905.0,265.7L908.0,261.5L918.0,257.5L930.0,255.0L942.0,251.5L950.0,247.0L956.0,245.0L962.0,243.5L964.0,249.0L965.5,258.0L965.5,269.0L967.0,270.0L972.0,267.0L977.0,260.0L983.0,251.0L988.0,246.0L994.0,240.0L996.0,238.0L1004.0,234.0L1010.0,232.0L1016.0,230.5L1021.0,229.0L1029.0,223.0L1034.0,219.0L1040.0,215.0L1047.0,211.5L1054.0,208.0L1060.0,204.0L1068.0,198.5L1073.0,195.5"/>
<path d="M502.5,85.0L499.0,90.0L495.0,95.0L496.0,97.0L502.0,101.0L507.0,104.5L512.0,105.0L516.0,109.0L520.0,114.0L524.0,120.0L527.0,126.0L528.0,131.2L526.5,125.0L527.0,131.0L525.0,138.0L520.0,143.0L513.0,146.0L506.0,151.0L500.0,156.0L494.0,158.0L488.0,159.5L485.0,161.0L480.0,158.0L474.0,155.5L465.0,156.5L462.0,163.0L459.0,170.0L456.0,177.0L456.0,183.0L458.0,186.0L462.0,192.0L470.0,198.0L479.0,198.5L488.0,194.0L499.0,190.0L506.0,187.0L510.0,177.0L515.0,166.0L519.0,173.0L524.0,182.0L520.0,186.0L514.0,190.0L504.0,202.0L503.0,211.0L502.0,226.0L503.0,236.0L505.0,247.2L506.0,251.0L512.0,255.0L520.0,261.0L528.0,264.0L536.0,265.5L542.0,263.0L545.0,258.0L553.0,257.0L559.0,262.0L558.0,267.0L554.0,272.0L548.0,276.0L549.0,285.0L551.0,293.0L556.0,290.0L562.0,284.0L568.0,277.0L574.0,271.0L580.0,267.0L588.0,265.0L596.0,266.0L603.0,270.0L604.0,277.0L601.0,287.0L604.0,297.0L607.0,308.0L612.0,318.0L622.0,323.0L640.0,323.5L646.0,320.0L655.0,318.0L657.0,312.0L657.0,300.0L658.0,290.0L659.5,281.0L660.0,278.0L664.0,275.0L672.5,270.8L680.8,266.7L686.7,263.8L690.0,265.0L697.5,266.7L705.8,268.3L714.0,268.8L722.5,270.0L735.0,271.3L750.0,266.0L763.3,263.7L783.3,260.3L800.0,257.0L818.3,253.7L823.3,252.8L836.7,252.0L850.0,250.3L860.0,248.7L870.0,243.7L883.3,241.7L896.7,244.0L903.3,239.5L910.0,233.7L916.7,230.7L923.3,228.3"/>
<path d="M946.0,222.0L952.0,226.0L960.0,229.5L966.0,231.0L974.0,236.0L980.0,234.0L985.0,231.0L990.0,227.0L994.0,223.5L998.0,221.0L1004.0,222.5L1009.0,222.8L1015.0,221.0L1020.0,219.5L1024.0,215.0L1033.0,209.5L1040.0,205.5L1048.0,202.0L1055.0,197.0L1058.0,192.0L1059.0,191.2L1064.0,186.0L1067.0,183.0"/>
<path d="M543.0,95.0L544.0,103.0L543.0,110.0L538.0,119.0L542.0,126.0L545.0,131.2L544.0,125.0L545.0,133.0L539.0,137.0L534.0,143.0L530.0,146.5L525.0,154.0L523.0,159.0L523.0,158.0L526.0,170.0L530.0,183.0L533.0,194.0L540.0,197.0L545.0,201.0L548.0,207.0L554.0,211.2L560.0,214.0L567.0,219.0L571.0,226.0L572.0,236.0L573.0,246.0L573.0,260.0L580.0,256.0L588.0,252.0L594.0,251.5L600.0,254.0L606.0,259.0L610.0,267.0L612.0,272.2L610.0,285.0L609.0,295.0L612.0,304.0L616.0,310.0L622.0,315.0L630.0,317.0L638.0,318.0L645.0,315.0L650.0,312.0L652.0,300.0L653.0,285.0L654.0,270.0L655.0,255.0L656.5,247.0L659.0,243.0L660.0,238.0L662.0,228.0L668.0,226.5L675.0,226.5L683.0,232.0L690.0,233.5L700.0,234.0L710.0,236.0L718.0,239.0L724.0,242.0L730.0,241.0L740.0,241.0L750.0,241.2L766.7,244.0L783.3,242.8L800.0,238.7L813.3,234.5L825.0,232.0L833.3,230.0L840.0,230.3L850.0,230.7L856.7,226.2L864.7,219.5"/>
<path d="M877.5,202.3L885.0,207.0L895.0,210.3L905.0,208.7L916.7,205.3L926.7,201.7"/>
<path d="M990.5,196.0L991.0,197.5L994.0,201.0L1000.0,207.0L1006.0,209.0L1011.0,209.5L1017.0,208.0L1024.0,204.0L1030.0,199.0L1035.0,196.0L1040.0,193.0L1045.0,191.0L1050.0,190.5L1053.0,184.5L1060.0,178.0L1065.0,175.0L1068.0,172.0"/>
<path d="M521.0,207.0L537.0,204.5L538.0,216.0L542.5,225.0L537.0,230.0L534.0,240.0L528.0,245.0L520.0,246.0L517.0,234.0L516.5,219.0L519.0,213.0Z"/>
<path d="M552.5,97.0L553.0,103.0L553.5,110.0L558.0,117.0L562.0,125.0L564.0,131.2L560.0,136.0L554.0,143.0L548.0,147.0L540.0,150.0L533.0,155.0L530.0,160.0L531.0,165.0L534.0,175.0L538.0,186.0L548.0,191.0L558.0,192.0L567.0,194.0L572.0,200.0L574.0,206.0L574.5,211.2L574.0,221.0L575.0,231.0L578.0,237.0L584.0,241.0L592.0,242.0L599.0,241.0L605.0,244.0L608.0,246.0L610.0,251.0L613.0,256.0L614.0,263.0L615.0,272.2L614.0,285.0L613.5,295.0L616.0,303.0L620.0,309.0L626.0,313.0L638.0,315.0L644.0,311.0L647.0,300.0L649.0,285.0L650.0,270.0L651.0,255.0L652.0,245.0L654.0,235.0L655.0,225.0L656.0,215.0L657.0,208.0L660.0,212.0L666.7,208.7L673.3,200.3L683.3,195.3L693.3,196.2L705.0,199.0L715.0,205.0L730.0,210.0L750.0,218.7L758.3,222.0L771.7,224.5L791.7,224.5L805.0,222.0L816.7,217.8L823.3,215.3L833.3,212.0L843.3,209.5L853.3,206.2L862.0,200.7"/>
<path d="M890.8,165.3L888.3,173.7L887.5,187.0L891.7,192.8L900.0,192.0L908.3,190.3L912.5,182.0L910.8,172.0L903.3,167.0L896.7,172.0Z"/>
<path d="M997.5,172.5L1000.0,177.0L1005.0,184.0L1015.0,188.5L1023.0,185.5L1033.0,179.0L1040.0,176.5L1048.0,175.0L1056.0,170.0L1064.0,163.0L1070.0,156.0L1076.0,150.0L1085.0,143.0L1092.0,139.0"/>
<path d="M563.5,99.5L565.0,105.0L570.0,110.0L574.0,115.0L575.0,123.0L575.0,127.0L580.0,122.0L586.0,114.0L592.0,108.0L600.0,105.5"/>
<path d="M575.0,127.0L574.0,131.0L574.0,140.0L578.0,149.0L578.5,158.0L590.0,158.5L601.0,157.5L605.0,163.0L610.0,173.0L613.0,185.0L614.0,195.0L615.0,211.0L614.0,218.0L611.0,225.0L605.0,229.5L599.0,233.0L592.0,235.0L585.0,234.5L579.5,231.0L579.0,211.0L579.0,206.0L578.0,197.0L574.0,190.0L569.0,185.0L560.0,185.5L549.0,185.0L542.0,177.0L538.0,168.0L538.0,162.0L539.0,158.0L544.0,155.0L552.0,154.0L556.0,145.0L562.0,137.0L569.0,130.0Z"/>
<path d="M600.0,105.5L608.0,110.0L615.0,115.0L620.0,120.0L626.0,123.0L633.0,126.0L640.0,130.0L650.0,141.7L660.0,153.3L671.7,166.7L683.3,173.3L693.3,176.7L706.7,179.2L720.0,186.7L733.3,191.7L743.3,195.8L750.0,197.8L760.0,202.8L771.7,207.0L780.0,202.8L785.8,199.5L791.7,202.8L798.3,197.8L805.8,190.3L816.7,192.8L828.3,195.3L840.0,192.8L850.0,189.5L858.3,184.5L865.0,177.8"/>
<path d="M1027.0,152.5L1030.0,157.0L1033.0,161.0L1038.0,165.0L1043.0,166.0L1050.0,164.5L1056.0,161.0L1062.0,157.0L1068.0,151.0L1072.0,145.0L1078.0,139.0L1084.0,134.0L1091.0,128.0"/>
<path d="M630.0,222.0L636.0,228.0L642.0,234.0L646.0,244.0L647.5,255.0L648.5,270.0L648.0,285.0L646.0,298.0L641.0,308.0L635.0,312.0L626.0,310.0L620.0,305.0L617.0,296.0L616.0,284.0L616.5,270.0L618.0,258.0L620.0,247.0L621.0,238.0L624.0,229.0Z"/>
<path d="M641.0,111.0L650.0,121.7L660.0,127.5L673.3,133.3L680.0,139.2L685.0,145.0L695.0,150.0L706.7,156.7L716.7,165.0L726.7,170.8L738.3,173.3L748.3,175.8L758.3,177.5L770.0,176.7L781.7,173.3L791.7,170.8L803.3,171.7L816.7,175.8L826.7,179.2L836.7,180.0L846.7,178.3L855.0,170.0L860.8,161.7L861.7,155.0L858.3,150.0"/>
<path d="M1037.0,150.0L1040.0,154.5L1045.0,157.0L1050.0,157.5L1055.0,153.0L1060.0,149.0L1065.0,144.0L1070.0,138.0L1073.0,133.0L1074.0,128.0L1078.9,123.1L1084.0,118.0"/>
<path d="M578.5,177.0L582.0,170.0L588.0,165.0L594.0,163.0L599.0,165.0L603.0,170.0L606.0,177.0L608.0,185.0L609.0,195.0L608.0,203.0L607.0,211.2L606.0,216.0L602.0,223.0L596.0,226.0L588.0,227.0L583.0,224.0L583.0,211.0L583.0,205.0L582.0,195.0L580.0,185.0Z"/>
<path d="M631.0,232.0L637.0,238.0L642.0,246.0L645.0,256.0L646.0,270.0L645.0,284.0L642.0,296.0L637.0,304.0L630.0,305.0L624.0,300.0L621.0,291.0L620.0,280.0L621.0,268.0L623.0,256.0L626.0,245.0L628.0,237.0Z"/>
<path d="M665.0,113.7L675.0,118.3L683.3,125.8L693.3,131.7L706.7,137.5L716.7,144.2L725.0,148.3L738.3,150.8L750.0,150.0L758.3,153.3L771.7,158.3L783.3,156.7L795.0,156.7L805.0,158.7L810.8,154.2"/>
<path d="M826.7,154.2L831.7,160.0L838.3,163.0L845.8,160.3L847.5,153.3L843.3,147.5"/>
<path d="M1056.2,131.1L1061.7,132.3L1066.6,124.3L1070.3,118.2L1075.2,112.1L1080.1,107.2"/>
<path d="M585.0,178.0L590.0,170.0L595.0,168.0L600.0,172.0L603.0,180.0L605.0,190.0L605.0,200.0L604.0,211.2L599.0,211.0L596.0,217.5L590.0,220.0L587.0,219.0L587.0,211.0L589.0,211.2L588.0,200.0L586.0,190.0Z"/>
<path d="M633.0,243.0L638.0,249.0L642.0,257.0L643.5,268.0L643.0,280.0L640.0,290.0L635.0,297.0L629.0,297.0L625.0,291.0L624.5,280.0L626.0,268.0L628.0,257.0L630.0,249.0Z"/>
<path d="M712.5,117.2L716.7,125.0L721.7,129.7L733.3,131.3L743.3,130.8L751.7,128.7L760.0,132.5L770.0,135.0L781.7,134.2L791.7,136.7L800.0,140.8L806.7,143.7L815.0,140.0L822.5,133.3L824.2,130.8"/>
<path d="M590.0,187.0L598.0,182.0L596.0,190.0L593.0,202.0L591.0,197.0Z"/>
<path d="M637.5,249.2L641.0,256.7L642.0,265.0L640.0,271.0L635.0,272.5L630.5,268.3L631.0,261.7L634.2,254.2Z"/>
<path d="M610.0,150.0L618.0,141.5L626.0,143.5L632.0,149.0L633.5,160.0L626.0,168.0L619.0,173.0L617.0,177.0L614.0,168.0L609.5,158.0Z"/>
<path d="M474.0,223.0L483.0,220.8L488.0,224.0L487.0,233.0L483.0,240.0L477.0,244.0L471.0,242.0L470.5,234.0L472.0,228.0Z"/>
<path d="M653.0,264.0L657.5,260.0L663.0,266.7L660.0,277.5L656.0,273.0Z"/>
</g>
</g>
<g fill="none" stroke="#7d7d7d" stroke-width="1.15" stroke-linejoin="round">
<path d="M447.5,116.3L456.5,120.1L458.9,122.2L459.4,126.6L459.4,130.8L464.8,132.9L473.2,133.0L476.3,135.6L482.1,135.4L490.4,135.5L498.1,135.6L502.5,135.5L502.5,135.5L514.0,138.3L525.5,140.9M535.1,92.9L525.7,133.9L525.5,140.9M525.5,140.9L528.8,148.3L525.5,152.6L522.4,158.7L516.9,164.2L518.3,168.7L518.4,172.1L516.3,175.9L509.7,204.8M425.1,182.6L436.9,186.1L448.7,189.5L460.6,192.8L472.6,195.9L484.5,198.9L496.5,201.8L508.6,204.6L520.6,207.2L532.7,209.7L544.8,212.1L557.0,214.4L569.1,216.5L581.3,218.5M474.6,196.4L462.1,244.5L515.6,324.5M515.6,324.5L515.2,326.6L517.6,334.2L519.8,337.6L514.0,341.9L512.2,347.4L509.2,350.2L510.7,356.7L507.0,361.2M515.6,324.5L517.1,314.7L517.5,307.7L522.2,307.2L526.9,307.3L529.6,293.5M529.6,293.5L545.3,212.2M529.6,293.5L542.7,295.9L555.9,298.2L569.0,300.4L582.2,302.4L595.5,304.2L608.7,306.0L622.0,307.6L635.3,309.0L648.6,310.3L661.9,311.5L675.2,312.5L688.5,313.4L701.9,314.1L715.2,314.7L728.6,315.1L741.9,315.5L755.3,315.6L768.6,315.6L782.0,315.5M603.1,238.4L594.0,304.0L581.1,396.9M578.7,234.8L590.9,236.7L603.1,238.4L615.4,240.1L627.7,241.5L639.9,242.9L652.2,244.1L664.6,245.2L676.9,246.2L689.2,247.1M578.7,234.8L581.3,218.5L587.8,178.3M545.6,95.2L542.2,111.1L545.0,116.7L544.1,120.7L548.0,124.0L550.9,129.5L555.4,136.3L556.0,138.9L553.5,148.4L550.7,153.7L553.3,155.9L558.0,152.6L559.2,155.3L561.3,163.2L563.3,168.6L566.8,175.1L571.9,176.8L576.8,176.0L582.8,176.2L584.3,173.9L587.8,178.3M589.2,169.7L600.7,171.5L612.2,173.1L623.8,174.6L635.4,176.0L647.0,177.3L658.6,178.5L670.2,179.5M675.7,114.5L664.6,245.2M671.5,164.2L683.8,165.1L696.0,165.9L708.3,166.6L720.6,167.2L732.9,167.6L745.2,167.9L757.5,168.0M667.4,212.3L680.7,213.4L694.0,214.3L707.3,215.0L720.6,215.6L733.9,216.0L739.3,219.9L747.1,218.4L751.9,220.3L758.5,224.6M689.2,247.1L688.2,263.6M688.2,263.6L702.2,264.4L716.3,265.0L730.4,265.5L744.5,265.8L758.6,266.0L772.7,265.9M688.2,263.6L685.0,313.2M672.6,312.3L672.0,320.6L665.6,394.7M665.6,394.7L649.1,393.4L632.7,391.8L616.2,390.1L617.1,393.8M672.0,320.6L685.1,321.5L698.2,322.2L711.4,322.8L710.0,354.9L713.9,357.7L720.6,361.3L728.7,362.3L735.5,363.3L740.8,366.7L748.3,369.3L755.8,366.9L759.2,370.2L766.7,366.1L773.5,367.7L781.0,371.0L784.6,371.1L790.7,372.5L790.9,381.2L791.3,398.2L794.5,404.5L798.5,411.0L798.6,416.0L796.3,422.6L796.8,429.2L794.8,435.8M784.6,371.1L784.9,342.1L782.1,323.8L782.0,315.5L781.7,280.4L777.9,275.8L775.3,273.0L777.8,268.4L772.7,265.9L766.8,256.4L765.6,249.4L764.9,245.1L762.7,236.2L759.7,229.6L758.5,224.6L758.0,216.4L756.8,208.1L758.6,208.1L758.7,178.5L754.1,173.6L757.5,168.0L757.1,162.1L755.1,152.8L754.4,142.5L752.2,135.5L751.2,126.2L750.5,118.1M758.6,208.1L771.1,208.1L783.5,208.0L796.0,207.7L808.5,207.3L820.9,206.7M766.8,256.4L779.4,256.3L791.9,256.0L804.5,255.7L817.0,255.2L821.1,258.3M808.3,154.7L806.2,155.4L806.5,164.9L803.6,167.2L800.1,170.9L800.0,173.5L801.7,177.9L801.6,182.8L801.4,186.9L806.2,190.1L811.0,192.3L815.4,197.9L819.9,201.0L820.9,206.7L821.9,214.1L823.3,219.0L828.7,222.8L834.9,229.1L834.8,234.4L831.4,239.2L825.0,240.4L825.6,245.3L824.7,251.2L821.1,258.3L821.3,265.8L826.5,273.5L831.3,280.7L837.8,282.4L838.3,286.4L837.2,293.6L841.9,297.5L848.0,301.2L848.5,307.8L853.6,312.4L849.0,321.1L847.3,329.5L845.1,336.2L843.3,343.8L840.4,346.5L837.3,351.6L835.0,358.4L831.0,365.2L829.5,371.1L830.7,375.2L830.4,380.1L831.7,386.7L834.7,390.6L832.2,396.6L828.1,404.0L825.8,413.4L825.8,413.4L852.4,411.9L851.5,417.7L855.8,424.8M828.7,222.8L845.9,221.7L863.1,220.4M827.5,155.9L833.7,159.9L843.0,161.8L850.0,163.7L854.9,166.6L858.5,167.9L858.4,173.7L861.4,177.6M867.4,232.3L871.0,272.0L871.6,279.4L872.3,282.7L867.2,290.6L866.8,298.1M853.6,312.4L855.1,309.0L860.4,310.8L862.3,309.3L866.4,304.0L866.8,298.1L872.2,295.2L878.7,295.4L885.2,295.6L886.2,293.0L888.4,289.5L892.0,292.4L895.2,287.6L896.9,284.4L898.9,279.5L905.1,277.6L905.6,272.6L909.6,272.1L914.1,277.1L919.8,278.4L929.3,275.7L935.1,280.1L939.8,276.5L940.0,272.2L944.2,269.1L946.2,264.3L950.3,261.5L953.9,255.9L954.4,249.6L954.9,244.0L955.5,239.9M957.9,254.9L951.8,218.0M905.6,272.6L900.6,229.9M917.1,227.3L900.6,229.9L900.5,228.9L876.1,231.5M849.0,321.1L868.4,319.6L868.1,316.6L888.5,315.4L908.1,313.7L925.3,311.9L951.3,308.2M925.3,311.9L932.6,306.7L936.6,301.5L941.7,298.4L945.3,293.4L940.7,291.9L937.5,287.7L935.3,284.3L935.1,280.1M782.1,323.8L796.8,323.5L811.5,323.0L826.2,322.4L840.9,321.6L838.3,330.0L847.3,329.5M790.9,381.5L810.7,381.0L830.4,380.1M840.4,346.5L854.1,345.6L867.9,344.5L881.7,343.4L895.4,342.0L909.1,340.5L922.8,338.9L936.5,337.1M868.5,344.5L870.1,410.6L872.1,423.3M903.2,341.2L912.8,375.5L916.1,382.1L915.3,391.3L917.2,397.8L918.9,405.9L921.4,410.5L947.8,408.8L959.1,407.8L961.0,411.0L962.2,404.3L969.2,403.7M882.4,409.6L900.6,407.8L918.9,405.9M882.4,409.6L884.6,421.3M974.2,381.1L968.2,374.2L962.8,366.7L955.2,360.0L946.1,352.5L939.6,345.0L933.8,342.2L936.5,337.1M936.5,337.1L945.3,332.5L963.2,330.2L963.6,331.5L965.3,332.9L967.5,335.5L982.4,333.4L1000.2,346.2M920.3,339.2L923.9,333.8L929.9,328.6L934.7,324.5L940.8,319.8L947.0,316.9L951.7,312.4L951.3,308.2M951.5,309.0L966.5,306.7L981.6,304.1L996.6,301.4L1011.6,298.5L1026.6,295.4M945.3,293.4L949.8,298.4L955.8,295.8L960.4,295.9L966.9,291.5L966.2,287.4L969.7,281.0L972.4,273.8L977.8,271.2L981.0,265.5L986.1,260.4L993.8,255.2M993.8,255.2L990.8,251.1L986.8,250.2L983.5,253.3L979.9,252.3L977.0,256.2L972.2,261.2L970.9,252.7M957.9,254.9L972.6,252.4L987.3,249.7L1001.9,246.9L1016.4,243.8M957.9,254.9L955.5,239.9M993.8,255.2L997.0,256.6L1002.8,259.7L1002.7,265.6L1002.9,269.8L1006.9,269.9L1016.1,273.0M1016.4,243.8L1022.0,264.0L1030.1,262.2M1016.4,243.8L1018.4,241.6L1020.7,241.6M1020.3,247.6L1020.7,241.6L1023.7,238.4L1028.0,234.0L1023.1,230.9L1020.1,226.4L1020.0,221.4L1023.8,214.4L1019.6,213.0L1017.2,207.6L1013.5,205.9M1013.5,205.9L1000.4,208.7L987.3,211.3L974.1,213.8L960.9,216.1L960.2,211.7M1023.8,214.4L1034.7,218.0L1034.4,223.2L1032.4,227.1M1037.7,217.3L1036.4,215.9L1037.8,212.2L1035.5,200.0L1035.4,188.1L1032.3,174.5L1030.5,174.9L1029.0,168.5L1027.6,160.3L1025.6,152.2M1045.0,186.1L1043.7,180.1L1042.7,171.9L1043.9,164.8L1045.9,158.3L1046.5,151.4L1046.5,146.9M1035.4,188.1L1045.0,186.1L1058.6,183.1L1060.5,180.9L1063.4,178.7M1035.5,200.0L1055.6,195.3L1060.6,194.2L1061.1,196.1L1062.3,198.4L1065.8,201.7M1055.6,195.5L1057.9,206.9M1063.8,175.4L1058.7,168.2L1050.0,141.1"/>
<path d="M474.2,77.4L475.8,81.6L474.2,85.8L474.4,91.0L474.9,95.3L472.2,100.5L469.8,104.9L465.7,107.1L465.5,103.7L469.6,99.7L471.2,94.3L470.1,90.6L466.5,90.4L462.5,88.4L456.3,85.7L450.6,80.9L449.5,84.4L449.1,88.6L450.0,95.6L450.0,102.5L449.8,105.0L449.7,109.2L447.5,116.3L446.7,122.0L444.8,128.3L441.9,136.0L439.5,141.6L435.8,151.3L430.1,160.8L425.2,168.1L424.6,175.5L425.1,182.6L424.1,186.6L423.9,192.6L421.3,197.8L418.9,202.3L415.2,206.5L415.0,209.8L417.3,214.3L418.9,220.5L417.6,224.4L416.2,232.6L419.1,239.5L421.4,245.4L420.6,250.3L423.9,253.0L425.9,255.3L424.5,260.1L424.4,265.2L427.1,269.9L430.4,272.9L428.0,276.5L426.6,281.3L430.4,287.5L432.0,294.0L435.7,299.7L437.0,303.8L436.5,308.0L435.2,313.1L437.0,315.8L444.3,318.2L448.2,319.5L451.6,322.6L453.5,326.0L458.5,328.4L461.0,329.5L461.4,333.9L464.7,334.6L467.4,337.8L469.6,340.7L472.6,345.8L473.1,351.8L472.8,354.8L473.9,357.4L507.0,361.2L505.1,364.7L553.0,392.7L592.8,398.4L593.8,391.1L617.1,393.8L623.8,400.9L629.4,408.1L637.2,415.4L639.8,425.6L643.9,433.2L651.7,438.1L660.6,444.2L664.5,440.7L668.7,432.0L673.8,431.5L686.6,432.8L693.4,439.9L698.7,451.0L702.7,459.4L712.4,471.2L715.0,481.9L718.5,489.3L731.0,495.4L740.0,497.2L746.7,497.1L744.6,486.7L743.6,475.3L748.6,466.7L751.5,462.3L758.1,457.4L764.7,454.2L774.1,448.4L781.3,442.6L786.9,438.4L794.8,435.8L802.6,434.4L812.8,436.9L818.5,437.5L823.4,434.0L828.6,437.9L831.6,440.2L836.1,442.4L840.5,444.7L847.7,443.4L850.4,440.8L854.7,439.7L858.4,441.9L859.4,445.1L862.9,444.1L861.9,439.2L857.2,434.6L858.4,430.4L860.3,427.0L855.2,425.7L859.3,422.9L864.8,420.9L869.8,421.3L876.4,422.5L877.4,418.2L881.3,421.2L882.0,422.0L889.0,420.0L898.8,417.9L904.6,419.0L910.7,421.7L916.3,428.1L921.4,427.1L929.5,422.8L933.4,419.3L938.6,420.8L944.2,425.1L950.3,432.5L956.1,437.5L956.1,447.4L956.2,451.5L958.2,457.0L961.1,451.7L960.6,458.4L961.8,461.5L963.7,464.5L967.6,470.5L972.6,473.9L975.5,478.4L977.1,481.8L980.7,482.6L985.1,486.0L988.8,493.3L991.0,492.6L998.0,490.5L999.1,486.2L1001.2,480.6L1000.8,475.2L1000.2,465.4L998.9,461.5L996.8,457.7L992.6,451.0L988.5,444.2L988.1,438.3L984.2,434.1L979.5,427.4L973.4,416.7L970.7,408.8L969.2,403.7L968.8,396.6L971.2,388.8L974.2,381.1L975.9,378.9L978.8,375.0L985.2,367.3L991.3,362.0L993.7,358.3L996.4,349.4L1000.2,346.2L1008.2,344.9L1009.2,338.6L1012.3,333.8L1018.3,329.2L1024.7,328.8L1029.0,321.1L1035.7,315.9L1033.6,306.6L1030.3,302.2L1026.6,295.4L1024.2,290.8L1023.6,289.6L1019.7,290.1L1017.8,284.5L1017.4,279.5L1016.1,273.0L1013.8,268.4L1010.5,257.8L1009.3,253.3L1013.8,247.3L1013.8,253.2L1014.0,263.3L1019.1,269.0L1023.3,273.2L1022.2,280.2L1023.3,286.4L1026.0,279.4L1028.4,272.1L1030.2,264.4L1028.4,256.8L1023.1,251.2L1020.3,247.6L1025.2,249.1L1029.3,249.8L1029.9,254.3L1034.6,245.9L1037.1,238.7L1035.5,226.8L1034.4,224.9L1035.4,225.2L1044.6,222.0L1053.3,216.0L1058.9,210.9L1054.0,210.6L1045.7,216.2L1038.7,218.8L1036.0,220.8L1038.8,216.5L1042.5,213.4L1045.7,210.8L1052.2,209.2L1055.0,207.6L1057.9,207.0L1062.2,205.1L1061.7,199.4L1063.9,202.7L1065.1,202.6L1066.7,201.5L1068.1,199.4L1070.7,196.1L1071.1,199.9L1075.0,197.0L1079.0,195.2L1078.3,192.3L1074.2,189.7L1077.0,191.8L1077.9,193.6L1074.6,195.6L1072.0,195.4L1069.5,193.0L1067.6,189.3L1063.6,187.7L1064.0,185.9L1067.0,181.7L1063.8,180.0L1063.8,175.4L1064.6,173.8L1065.4,170.2L1066.6,164.7L1068.8,161.5L1071.2,162.6L1072.8,159.6L1074.4,159.4L1077.7,153.9L1078.9,147.5L1082.9,150.6L1086.1,148.8L1088.5,146.7L1092.6,142.1L1094.2,139.5L1098.5,135.4L1097.7,134.1L1093.0,130.8L1089.3,124.7L1084.5,123.6L1083.7,120.4L1078.2,102.9L1076.3,102.0L1071.0,100.1L1068.6,102.7L1065.7,104.8L1064.0,104.9L1060.9,101.4L1055.9,115.7L1056.5,120.6L1055.8,125.9L1056.7,129.1L1055.9,132.7L1054.4,138.2L1052.8,141.2L1050.0,141.1L1046.6,142.8L1046.5,146.9L1025.6,152.2L1010.3,155.9L1004.0,159.9L1002.3,162.8L998.3,169.5L994.5,174.0L996.8,176.6L997.8,183.9L990.9,188.7L982.8,191.0L975.4,190.6L965.5,194.2L968.6,200.0L964.4,207.2L956.4,214.4L951.5,218.2L948.7,219.8L938.8,228.1L933.1,229.4L926.8,230.6L926.3,229.0L916.9,227.8L917.9,224.4L920.0,217.4L922.9,212.0L926.5,204.8L923.0,195.3L917.8,188.2L914.0,190.8L908.1,196.5L909.7,190.5L911.6,186.1L912.7,183.5L910.0,173.0L908.8,168.2L905.0,167.6L896.8,164.8L893.6,163.0L891.8,170.0L888.4,171.2L886.8,176.7L885.2,180.7L885.2,173.6L879.7,179.1L878.2,183.7L877.8,190.0L876.8,195.1L879.4,206.8L881.7,214.2L881.5,220.3L879.5,225.5L875.1,232.2L870.4,234.3L866.4,230.9L863.0,222.7L861.3,211.6L862.5,199.8L862.5,194.0L866.7,181.2L868.9,173.6L863.8,181.5L857.8,187.4L861.4,177.6L867.0,166.3L872.4,168.3L875.9,162.2L884.8,159.1L893.5,161.5L902.7,159.1L906.0,157.8L899.9,155.3L896.5,150.8L893.2,152.0L889.2,147.2L877.7,150.1L870.5,155.0L861.8,153.7L857.7,149.4L854.5,148.6L849.6,151.4L854.1,143.7L855.1,139.2L857.2,140.1L855.1,139.2L850.4,140.4L847.0,143.8L839.6,150.2L834.3,151.7L827.5,155.9L822.2,155.7L822.7,152.2L824.0,149.9L819.5,151.6L808.3,154.4L812.9,149.3L817.4,144.5L827.4,136.6L834.4,132.7L836.5,131.9L835.2,132.0L830.7,130.7L822.3,131.2L819.4,128.9L811.8,132.0L807.2,127.8L803.3,128.8L797.7,124.9L792.7,124.3L779.4,122.6L778.5,120.2L776.8,112.9L773.2,112.0L773.3,118.1L764.0,118.2L753.0,118.1L742.0,117.9L731.0,117.7L720.1,117.3L709.1,116.7L698.2,116.1L687.2,115.4L676.3,114.5L665.4,113.5L654.4,112.5L643.5,111.2L632.6,109.9L621.8,108.5L610.9,107.0L600.1,105.3L589.2,103.5L578.4,101.7L567.6,99.7L556.9,97.6L546.1,95.3L535.4,93.0L524.7,90.6L514.1,88.0L503.4,85.3L492.8,82.6L482.2,79.7Z" stroke="#777" stroke-width="1.1"/>
</g></g>
<g id="conus_b">
<clipPath id="clip_b"><path d="M1483.5,82.9L1485.1,87.0L1483.5,91.3L1483.7,96.4L1484.2,100.8L1481.5,105.9L1479.1,110.3L1475.0,112.5L1474.8,109.1L1478.9,105.2L1480.5,99.7L1479.4,96.0L1475.8,95.8L1471.8,93.8L1465.6,91.1L1459.9,86.3L1458.8,89.9L1458.4,94.0L1459.3,101.1L1459.3,107.9L1459.1,110.4L1459.0,114.6L1456.8,121.6L1456.0,127.4L1454.1,133.6L1451.2,141.3L1448.8,146.9L1445.1,156.6L1439.4,166.1L1434.5,173.4L1433.9,180.7L1434.4,187.8L1433.4,191.8L1433.2,197.8L1430.6,203.0L1428.2,207.5L1424.5,211.7L1424.3,214.9L1426.6,219.4L1428.2,225.6L1426.9,229.5L1425.5,237.7L1428.4,244.6L1430.7,250.5L1429.9,255.4L1433.2,258.1L1435.2,260.3L1433.8,265.1L1433.7,270.2L1436.4,274.9L1439.7,277.9L1437.3,281.5L1435.9,286.3L1439.7,292.5L1441.3,298.9L1445.0,304.7L1446.3,308.8L1445.8,312.9L1444.5,318.0L1446.3,320.7L1453.6,323.1L1457.5,324.4L1460.9,327.5L1462.8,330.9L1467.8,333.3L1470.3,334.4L1470.7,338.7L1474.0,339.5L1476.7,342.7L1478.9,345.5L1481.9,350.6L1482.4,356.6L1482.1,359.6L1483.2,362.2L1516.3,366.0L1514.4,369.5L1562.3,397.4L1602.1,403.1L1603.1,395.8L1626.4,398.6L1633.1,405.6L1638.7,412.7L1646.5,420.1L1649.1,430.2L1653.2,437.8L1661.0,442.7L1669.9,448.8L1673.8,445.4L1678.0,436.6L1683.1,436.2L1695.9,437.4L1702.7,444.5L1708.0,455.6L1712.0,463.9L1721.7,475.7L1724.3,486.4L1727.8,493.8L1740.3,499.9L1749.3,501.7L1756.0,501.6L1753.9,491.2L1752.9,479.8L1757.9,471.2L1760.8,466.8L1767.4,462.0L1774.0,458.7L1783.4,453.0L1790.6,447.2L1796.2,443.0L1804.1,440.4L1811.9,439.1L1822.1,441.5L1827.8,442.1L1832.7,438.7L1837.9,442.5L1840.9,444.8L1845.4,447.1L1849.8,449.3L1857.0,448.0L1859.7,445.4L1864.0,444.3L1867.7,446.5L1868.7,449.7L1872.2,448.7L1871.2,443.8L1866.5,439.2L1867.7,435.1L1869.6,431.6L1864.5,430.3L1868.6,427.6L1874.1,425.6L1879.1,426.0L1885.7,427.1L1886.7,422.9L1890.6,425.9L1891.3,426.6L1898.3,424.7L1908.1,422.6L1913.9,423.7L1920.0,426.3L1925.6,432.8L1930.7,431.7L1938.8,427.5L1942.7,424.0L1947.9,425.5L1953.5,429.7L1959.6,437.2L1965.4,442.1L1965.4,452.0L1965.5,456.1L1967.5,461.6L1970.4,456.3L1969.9,462.9L1971.1,466.0L1973.0,469.1L1976.9,475.1L1981.9,478.4L1984.8,482.9L1986.4,486.3L1990.0,487.1L1994.4,490.5L1998.1,497.8L2000.3,497.1L2007.3,495.0L2008.4,490.7L2010.5,485.1L2010.1,479.8L2009.5,470.0L2008.2,466.1L2006.1,462.3L2001.9,455.6L1997.8,448.8L1997.4,442.9L1993.5,438.7L1988.8,432.1L1982.7,421.4L1980.0,413.5L1978.5,408.4L1978.1,401.4L1980.5,393.5L1983.5,385.9L1985.2,383.6L1988.1,379.8L1994.5,372.1L2000.6,366.8L2003.0,363.1L2005.7,354.2L2009.5,351.0L2017.5,349.7L2018.5,343.5L2021.6,338.6L2027.6,334.1L2034.0,333.6L2038.3,326.0L2045.0,320.9L2042.9,311.5L2039.6,307.1L2035.9,300.3L2033.5,295.8L2032.9,294.6L2029.0,295.0L2027.1,289.5L2026.7,284.5L2025.4,278.1L2023.1,273.5L2019.8,262.8L2018.6,258.4L2023.1,252.4L2023.1,258.3L2023.3,268.4L2028.4,274.0L2032.6,278.2L2031.5,285.2L2032.6,291.4L2035.3,284.4L2037.7,277.1L2039.5,269.4L2037.7,261.9L2032.4,256.3L2029.6,252.6L2034.5,254.1L2038.6,254.9L2039.2,259.3L2043.9,251.0L2046.4,243.8L2044.8,232.0L2043.7,230.0L2044.7,230.3L2053.9,227.1L2062.6,221.2L2068.2,216.0L2063.3,215.7L2055.0,221.4L2048.0,223.9L2045.3,225.9L2048.1,221.7L2051.8,218.6L2055.0,216.0L2061.5,214.3L2064.3,212.8L2067.2,212.2L2071.5,210.2L2071.0,204.6L2073.2,207.9L2074.4,207.8L2076.0,206.6L2077.4,204.6L2080.0,201.3L2080.4,205.1L2084.3,202.2L2088.3,200.4L2087.6,197.5L2083.5,194.9L2086.3,197.0L2087.2,198.8L2083.9,200.7L2081.3,200.6L2078.8,198.2L2076.9,194.5L2072.9,193.0L2073.3,191.2L2076.3,186.9L2073.1,185.2L2073.1,180.6L2073.9,179.1L2074.7,175.4L2075.9,170.0L2078.1,166.8L2080.5,167.8L2082.1,164.8L2083.7,164.7L2087.0,159.2L2088.2,152.8L2092.2,155.9L2095.4,154.2L2097.8,152.1L2101.9,147.4L2103.5,144.8L2107.8,140.8L2107.0,139.5L2102.3,136.1L2098.6,130.1L2093.8,129.0L2093.0,125.8L2087.5,108.3L2085.6,107.4L2080.3,105.6L2077.9,108.1L2075.0,110.2L2073.3,110.3L2070.2,106.8L2065.2,121.1L2065.8,126.0L2065.1,131.3L2066.0,134.4L2065.2,138.0L2063.7,143.5L2062.1,146.5L2059.3,146.4L2055.9,148.1L2055.8,152.2L2034.9,157.5L2019.6,161.2L2013.3,165.1L2011.6,168.0L2007.6,174.8L2003.8,179.3L2006.1,181.8L2007.1,189.2L2000.2,193.9L1992.1,196.2L1984.7,195.8L1974.8,199.4L1977.9,205.2L1973.7,212.3L1965.7,219.5L1960.8,223.4L1958.0,225.0L1948.1,233.2L1942.4,234.5L1936.1,235.8L1935.6,234.2L1926.2,232.9L1927.2,229.5L1929.3,222.5L1932.2,217.2L1935.8,210.0L1932.3,200.5L1927.1,193.5L1923.3,196.0L1917.4,201.7L1919.0,195.7L1920.9,191.3L1922.0,188.7L1919.3,178.3L1918.1,173.5L1914.3,172.8L1906.1,170.1L1902.9,168.3L1901.1,175.3L1897.7,176.5L1896.1,181.9L1894.5,185.9L1894.5,178.8L1889.0,184.3L1887.5,188.9L1887.1,195.2L1886.1,200.3L1888.7,211.9L1891.0,219.3L1890.8,225.4L1888.8,230.6L1884.4,237.3L1879.7,239.4L1875.7,236.0L1872.3,227.8L1870.6,216.8L1871.8,204.9L1871.8,199.2L1876.0,186.4L1878.2,178.8L1873.1,186.7L1867.1,192.6L1870.7,182.8L1876.3,171.6L1881.7,173.5L1885.2,167.4L1894.1,164.4L1902.8,166.8L1912.0,164.4L1915.3,163.1L1909.2,160.6L1905.8,156.1L1902.5,157.3L1898.5,152.5L1887.0,155.4L1879.8,160.3L1871.1,159.0L1867.0,154.7L1863.8,153.9L1858.9,156.7L1863.4,149.0L1864.4,144.5L1866.5,145.5L1864.4,144.5L1859.7,145.7L1856.3,149.1L1848.9,155.5L1843.6,157.0L1836.8,161.2L1831.5,161.0L1832.0,157.5L1833.3,155.2L1828.8,156.9L1817.6,159.7L1822.2,154.6L1826.7,149.8L1836.7,141.9L1843.7,138.1L1845.8,137.3L1844.5,137.4L1840.0,136.0L1831.6,136.5L1828.7,134.2L1821.1,137.4L1816.5,133.2L1812.6,134.2L1807.0,130.3L1802.0,129.6L1788.7,128.0L1787.8,125.6L1786.1,118.3L1782.5,117.4L1782.6,123.5L1773.3,123.6L1762.3,123.5L1751.3,123.3L1740.3,123.0L1729.4,122.6L1718.4,122.1L1707.5,121.5L1696.5,120.8L1685.6,119.9L1674.7,118.9L1663.7,117.8L1652.8,116.6L1641.9,115.3L1631.1,113.9L1620.2,112.4L1609.4,110.7L1598.5,109.0L1587.7,107.1L1576.9,105.1L1566.2,103.0L1555.4,100.8L1544.7,98.4L1534.0,96.0L1523.4,93.5L1512.7,90.8L1502.1,88.0L1491.5,85.1Z"/></clipPath>
<g clip-path="url(#clip_b)">
<rect x="1419" y="78" width="694" height="429" fill="#fff6b5"/>
<path d="M1507.5,90.2L1500.0,101.0L1490.0,116.0L1485.0,124.3L1480.8,137.7L1476.7,149.3L1474.2,159.3L1471.7,168.0L1466.7,174.7L1460.0,184.7L1456.7,194.7L1456.3,204.7L1458.3,214.7L1462.5,224.7L1465.8,238.0L1467.5,251.3L1469.2,261.3L1470.8,270.0L1476.7,286.7L1485.0,303.3L1491.7,316.7L1495.0,330.0L1496.7,345.0L1498.0,365.0L1500.0,372.0L1490.0,430.0L1380.0,430.0L1380.0,60.0Z" fill="#d1ddf2"/>
<path d="M1498.3,87.7L1493.3,101.0L1486.7,114.3L1481.7,124.3L1476.7,137.7L1473.3,152.7L1468.3,168.0L1458.3,178.0L1452.5,188.0L1450.5,201.3L1453.0,214.7L1457.2,226.3L1460.8,238.0L1462.5,251.3L1464.2,261.3L1465.8,270.0L1471.7,286.7L1474.2,303.3L1483.3,316.7L1488.3,330.0L1491.7,345.0L1494.2,365.0L1496.0,372.0L1490.0,430.0L1380.0,430.0L1380.0,60.0Z" fill="#bdd0ea"/>
<path d="M1493.3,85.2L1488.3,99.3L1480.0,112.7L1475.0,122.7L1471.7,136.0L1466.7,152.7L1461.7,168.0L1451.7,178.0L1445.8,188.0L1443.3,201.3L1445.0,214.7L1450.0,226.3L1455.0,238.0L1456.7,251.3L1458.3,261.3L1460.0,270.0L1463.3,286.7L1465.0,303.3L1475.0,318.3L1481.7,330.0L1487.5,345.0L1491.3,365.0L1492.0,372.0L1490.0,430.0L1380.0,430.0L1380.0,60.0Z" fill="#aac3e2"/>
<path d="M1460.0,97.7L1465.0,103.5L1471.7,99.3L1475.8,92.7L1480.0,70.0L1450.0,70.0L1450.0,97.0Z" fill="#bdd0ea"/>
<path d="M1435.0,189.7L1437.5,201.3L1431.7,211.3L1435.0,223.0L1443.3,234.7L1449.2,246.3L1451.7,258.0L1452.5,270.0L1451.7,280.0L1455.8,295.0L1461.7,308.3L1468.3,320.0L1476.7,331.7L1483.3,345.0L1488.7,365.0L1489.0,372.0L1380.0,430.0L1380.0,190.0Z" fill="#96b5db"/>
<path d="M1427.5,231.3L1435.0,238.0L1441.7,248.0L1443.3,261.3L1445.8,270.0L1445.8,280.0L1449.2,295.0L1453.3,310.0L1463.3,321.7L1472.5,333.3L1480.0,346.7L1486.3,365.0L1486.0,372.0L1380.0,430.0L1380.0,230.0Z" fill="#83a8d3"/>
<path d="M1447.5,318.3L1458.3,325.0L1468.3,335.0L1476.7,348.3L1484.2,365.0L1484.0,372.0L1380.0,430.0L1380.0,320.0Z" fill="#6f9bcb"/>
<path d="M1553.3,100.2L1553.3,112.7L1543.3,113.5L1540.0,121.0L1543.3,129.3L1546.7,139.3L1541.7,147.7L1536.7,153.5L1526.7,156.3L1516.7,158.0L1503.3,162.7L1493.3,161.0L1481.7,157.7L1474.2,160.2L1471.7,168.0L1465.0,178.0L1461.7,189.7L1461.7,201.3L1464.2,213.0L1468.3,224.7L1471.7,238.0L1474.2,251.3L1476.7,261.3L1479.2,270.0L1483.3,280.0L1490.0,295.0L1496.7,310.0L1500.0,323.3L1503.3,336.7L1504.2,350.0L1503.3,365.0L1506.0,380.0L1506.0,520.0L1880.0,520.0L1880.0,435.0L1860.0,429.5L1859.2,422.0L1860.0,416.2L1866.7,412.0L1873.3,407.0L1878.3,400.3L1881.7,387.0L1885.0,372.0L1888.3,360.0L1893.3,350.0L1900.0,341.7L1906.7,333.3L1910.0,326.7L1920.0,321.7L1926.7,315.0L1933.3,309.2L1944.2,304.2L1943.3,315.0L1940.0,325.0L1938.3,330.0L1946.7,332.5L1963.3,333.3L1970.0,321.7L1976.7,310.0L1981.7,300.0L1988.3,288.3L1995.0,280.0L2001.7,275.0L2005.0,270.0L2010.0,263.0L2018.3,257.2L2200.0,257.0L2200.0,40.0L1553.0,40.0Z" fill="#fee4a3"/>
<path d="M1478.3,224.7L1485.0,216.3L1496.7,209.7L1508.3,202.2L1516.7,187.2L1525.0,171.3L1533.3,184.7L1538.3,193.0L1542.5,201.3L1533.3,200.5L1525.0,200.5L1516.7,205.5L1510.8,208.8L1509.2,223.0L1507.5,238.0L1505.0,251.3L1503.3,261.3L1505.0,270.0L1505.8,270.0L1526.7,275.0L1541.7,280.0L1548.3,290.0L1560.0,303.3L1566.7,305.0L1576.7,288.3L1585.0,278.3L1590.0,270.0L1589.2,270.0L1586.7,261.3L1596.7,254.7L1605.0,246.3L1615.0,248.0L1620.0,261.3L1625.0,270.0L1625.0,270.0L1616.7,280.0L1616.7,296.7L1620.0,310.0L1628.3,325.0L1640.0,330.0L1651.7,333.3L1663.3,325.0L1665.0,310.0L1670.0,301.7L1673.3,313.3L1680.0,320.0L1683.3,336.7L1685.0,350.0L1686.7,363.3L1690.0,372.0L1695.0,380.3L1698.3,392.0L1697.5,405.3L1698.3,415.3L1695.0,423.7L1693.3,432.0L1688.3,437.8L1683.3,458.7L1643.3,448.7L1593.3,427.0L1551.7,412.0L1526.7,392.0L1551.7,363.3L1543.3,350.0L1535.0,336.7L1525.8,327.5L1505.0,338.3L1503.3,365.0L1493.3,360.0L1488.3,340.0L1485.0,320.0L1480.0,300.0L1475.0,280.0L1476.7,268.0L1475.0,254.7L1475.8,239.7Z" fill="#fff6b5"/>
<path d="M1505.0,338.3L1525.8,327.5L1535.0,336.7L1543.3,350.0L1551.7,363.3L1555.0,372.0L1553.3,375.3L1543.3,384.5L1518.3,372.0L1503.3,370.0Z" fill="#fee4a3"/>
<path d="M1950.8,428.3L1960.0,426.2L1971.7,425.0L1984.2,425.7L2010.0,430.0L2010.0,480.0L1945.0,480.0L1945.0,428.0Z" fill="#fee4a3"/>
<path d="M1924.2,430.3L1928.3,420.3L1935.8,426.2Z" fill="#fee4a3"/>
<path d="M1704.2,427.0L1710.0,420.3L1718.3,422.0L1725.0,428.7L1716.7,436.2L1708.3,433.7Z" fill="#fff6b5"/>
<path d="M1713.3,460.8L1726.7,460.0L1735.0,460.8L1743.3,465.0L1750.0,478.3L1760.0,520.0L1700.0,520.0Z" fill="#f9b985"/>
<path d="M1726.7,490.0L1735.0,492.5L1736.7,496.7Z" fill="#f6a277"/>
<path d="M1991.7,475.0L2000.0,467.8L2005.8,463.3L2010.0,460.0L2010.0,480.0Z" fill="#fdd092"/>
<path d="M1466.7,178.0L1476.7,169.7L1485.0,171.3L1489.2,176.3L1485.0,183.0L1476.7,188.0L1468.3,188.8L1465.0,184.7Z" fill="#fdd092"/>
<path d="M1526.7,211.3L1536.7,212.2L1543.3,218.0L1551.7,229.7L1546.7,238.0L1540.0,253.0L1531.7,258.8L1525.0,254.7L1521.7,248.0L1525.0,234.7L1525.0,221.3Z" fill="#fdd092"/>
<path d="M1563.3,103.5L1561.7,116.0L1568.3,122.7L1573.3,132.7L1570.0,141.0L1565.0,149.3L1555.0,151.0L1546.7,152.7L1541.7,156.8L1536.7,162.7L1533.3,168.0L1536.7,168.0L1541.7,178.0L1543.3,189.7L1548.3,196.3L1560.0,199.7L1570.0,203.0L1576.7,205.5L1581.7,211.3L1580.0,219.7L1583.3,224.7L1583.3,238.0L1586.7,248.0L1590.0,251.3L1598.3,241.3L1610.0,239.7L1623.3,231.3L1628.3,234.7L1630.0,246.3L1631.7,258.0L1628.3,270.0L1620.0,275.0L1616.7,286.7L1616.7,300.0L1621.7,311.7L1628.3,320.0L1631.7,328.3L1650.0,333.3L1663.3,323.3L1665.0,310.0L1670.0,301.7L1675.0,283.3L1675.0,270.0L1678.3,283.3L1685.0,295.0L1693.3,306.7L1700.0,318.3L1705.0,328.3L1710.0,336.7L1715.0,345.0L1718.3,353.3L1721.7,361.7L1726.7,366.7L1736.7,370.0L1746.7,368.3L1755.0,365.0L1750.0,363.3L1756.7,356.7L1761.7,350.0L1768.3,340.0L1775.0,333.3L1783.3,325.8L1790.0,323.3L1800.0,327.5L1813.3,324.2L1823.3,321.7L1831.7,325.0L1843.3,328.3L1850.0,327.5L1855.0,321.7L1857.5,313.3L1858.3,310.0L1866.7,305.0L1876.7,298.3L1886.7,288.3L1896.7,282.5L1906.7,278.3L1915.0,274.2L1918.3,270.0L1925.0,261.3L1933.3,256.3L1941.7,251.3L1942.5,246.3L1940.0,239.7L1935.8,235.5L1940.0,200.0L1940.0,40.0L1563.0,40.0Z" fill="#fdd092"/>
<path d="M1965.8,217.2L1961.7,231.3L1965.0,236.3L1973.3,241.3L1981.7,246.3L1990.0,241.3L2000.0,231.3L2006.7,227.2L2016.7,230.5L2026.7,229.7L2033.3,223.0L2043.3,214.7L2053.3,209.7L2061.7,206.3L2068.3,200.5L2200.0,200.0L2200.0,40.0L1960.0,40.0L1960.0,217.0Z" fill="#fdd092"/>
<path d="M1616.7,280.0L1621.7,270.0L1626.7,260.0L1636.7,251.7L1643.3,255.0L1650.0,263.3L1656.7,270.0L1661.7,280.0L1665.0,291.7L1655.0,296.7L1653.3,310.0L1643.3,311.7L1631.7,310.0L1621.7,305.0L1617.5,293.3Z" fill="#fdd092"/>
<path d="M1572.5,105.2L1578.3,114.3L1583.3,124.3L1585.0,132.7L1593.3,121.0L1601.7,117.7L1610.0,122.7L1616.7,131.0L1625.0,137.7L1635.0,141.0L1643.3,149.3L1646.7,159.3L1650.0,168.0L1655.0,181.3L1658.3,194.7L1661.7,206.3L1665.0,211.3L1670.0,216.3L1675.0,218.0L1683.3,219.7L1690.0,224.7L1691.7,234.7L1695.0,241.3L1701.7,248.0L1705.0,258.0L1706.7,270.0L1710.0,270.0L1715.0,286.7L1721.7,300.0L1728.3,311.7L1736.7,320.0L1743.3,323.3L1750.0,316.7L1755.0,310.0L1750.0,310.0L1755.0,307.5L1763.3,304.2L1771.7,300.0L1778.3,295.0L1783.3,288.3L1788.3,282.5L1800.0,280.8L1806.7,276.7L1813.3,271.7L1816.7,270.0L1825.0,261.3L1833.3,254.7L1846.7,249.7L1856.7,246.3L1863.3,241.3L1866.7,234.7L1870.3,223.8L1880.0,215.0L1880.0,40.0L1572.0,40.0Z" fill="#f9b985"/>
<path d="M1893.3,188.8L1895.0,199.7L1900.0,208.0L1908.3,203.8L1917.5,199.3L1945.0,190.0L1945.0,140.0L1880.0,140.0Z" fill="#f9b985"/>
<path d="M2007.5,173.0L2011.7,184.7L2020.0,195.5L2030.0,193.0L2036.7,188.0L2046.7,189.7L2055.0,186.3L2061.7,178.0L2066.7,171.3L2073.3,161.0L2081.7,151.0L2090.0,142.7L2099.2,137.3L2200.0,137.0L2200.0,40.0L2000.0,40.0Z" fill="#f9b985"/>
<path d="M1586.7,184.7L1593.3,174.7L1603.3,169.7L1615.0,173.0L1620.0,184.7L1623.3,201.3L1625.0,218.0L1626.7,231.3L1616.7,234.7L1606.7,239.7L1595.0,241.3L1588.3,239.7L1587.5,223.0L1588.3,201.3Z" fill="#fdd092"/>
<path d="M1589.2,188.0L1595.0,178.0L1603.3,173.0L1612.5,176.3L1616.7,188.0L1618.3,204.7L1618.3,219.7L1615.0,229.7L1605.0,233.0L1593.3,233.0L1590.8,221.3L1590.8,201.3Z" fill="#f9b985"/>
<path d="M1621.7,280.0L1625.0,270.0L1630.0,261.7L1637.5,255.0L1646.7,261.7L1655.0,270.0L1658.3,280.0L1656.7,290.0L1651.7,298.3L1650.0,307.5L1641.7,309.2L1631.7,306.7L1625.0,300.0L1622.5,290.0Z" fill="#f9b985"/>
<path d="M1630.8,114.0L1640.0,122.7L1648.3,131.0L1656.7,137.7L1663.3,146.0L1668.3,156.0L1673.3,168.0L1686.7,178.0L1693.3,184.7L1701.7,191.3L1710.0,196.3L1715.0,204.7L1721.7,211.3L1730.0,218.0L1733.3,226.3L1735.0,238.0L1736.7,241.3L1746.7,239.7L1750.0,243.8L1761.7,244.7L1773.3,245.5L1783.3,247.2L1793.3,243.8L1803.3,239.7L1811.7,241.3L1820.0,238.0L1826.7,229.7L1831.7,219.7L1835.0,211.3L1843.3,205.5L1853.3,200.5L1860.0,194.7L1866.7,188.0L1871.7,179.7L1875.0,173.0L1873.3,168.0L1872.5,161.0L1868.0,155.2L1868.0,40.0L1631.0,40.0Z" fill="#f6a277"/>
<path d="M2060.0,169.0L2065.0,161.0L2070.0,152.7L2076.7,142.7L2083.3,132.7L2090.8,121.8L2100.0,90.0L2060.0,90.0Z" fill="#f6a277"/>
<path d="M1593.3,186.3L1598.3,179.7L1605.0,178.0L1610.0,183.0L1613.3,193.0L1614.2,208.0L1611.7,221.3L1605.0,226.3L1596.7,225.5L1594.2,216.3L1594.2,199.7Z" fill="#f6a277"/>
<path d="M1626.7,280.0L1630.0,270.0L1633.3,263.3L1638.3,258.3L1646.7,265.0L1653.3,271.7L1655.0,281.7L1651.7,291.7L1648.3,301.7L1640.0,304.2L1633.3,301.7L1628.3,291.7Z" fill="#f6a277"/>
<path d="M1652.5,116.8L1660.0,123.5L1670.0,127.7L1680.0,131.8L1685.0,136.0L1691.7,146.0L1696.7,156.0L1703.3,162.7L1710.0,168.0L1720.0,178.0L1733.0,187.0L1745.0,197.0L1750.0,200.5L1758.3,205.5L1768.3,208.8L1773.3,212.2L1783.3,212.2L1785.8,206.3L1788.3,196.3L1791.7,186.3L1798.3,178.0L1808.3,175.5L1820.0,174.7L1830.0,178.0L1840.0,183.0L1848.3,183.8L1856.7,180.5L1860.8,173.0L1861.7,168.0L1858.3,159.3L1850.8,151.8L1851.0,40.0L1652.0,40.0Z" fill="#f28a67"/>
<path d="M2051.3,156.8L2055.0,162.7L2058.3,159.3L2061.7,152.7L2065.0,142.7L2070.0,129.3L2075.0,116.0L2080.0,104.7L2085.0,90.0L2050.0,90.0Z" fill="#f28a67"/>
<path d="M1597.5,184.7L1603.3,181.3L1608.3,184.7L1610.8,194.7L1610.0,208.0L1606.7,219.7L1600.0,223.0L1596.7,216.3L1596.7,199.7Z" fill="#f28a67"/>
<path d="M1631.7,278.3L1635.0,270.0L1639.2,262.5L1646.7,268.3L1651.7,273.3L1652.5,281.7L1648.3,290.0L1643.3,298.3L1636.7,298.3L1632.5,288.3Z" fill="#f28a67"/>
<path d="M1690.0,121.8L1700.0,127.7L1710.0,132.7L1718.3,139.3L1725.0,147.7L1733.3,154.3L1743.3,157.7L1753.3,156.8L1750.0,158.5L1763.3,151.8L1770.0,156.0L1779.2,162.7L1788.3,154.3L1796.7,147.7L1805.0,151.0L1813.3,154.3L1820.0,147.7L1825.0,141.0L1829.7,133.5L1840.0,100.0L1690.0,100.0Z" fill="#ee7459"/>
<path d="M1600.0,186.3L1607.5,184.7L1608.3,189.7L1605.0,196.3L1604.2,213.0L1601.7,213.8L1600.0,203.0L1599.2,193.0Z" fill="#ee7459"/>
<path d="M1636.7,275.0L1640.8,266.7L1646.7,271.7L1650.0,276.7L1646.7,281.7L1641.7,286.7L1640.0,280.0Z" fill="#ee7459"/>
<path d="M1729.2,123.5L1733.3,128.5L1741.7,128.5L1750.0,124.3L1750.0,100.0L1729.0,100.0Z" fill="#e9604e"/>
<path d="M1508.3,120.2L1525.0,131.0L1525.8,136.0L1520.0,144.3L1510.0,149.3L1500.8,154.3L1496.7,151.0L1497.5,139.3L1501.7,129.3Z" fill="#d1ddf2"/>
<path d="M1569.2,370.3L1566.7,380.3L1561.7,387.0L1556.7,393.7L1576.7,401.2L1603.3,404.5L1604.2,397.0L1626.7,395.3L1646.7,425.3L1665.0,433.7L1665.8,428.7L1665.0,418.7L1662.5,402.0L1663.3,388.7L1664.2,372.0L1668.3,363.3L1669.2,348.3L1665.0,344.2L1655.0,346.7L1648.3,358.3L1640.0,355.0L1638.3,343.3L1636.7,340.0L1621.7,343.3L1618.3,353.3L1610.0,360.0L1601.7,368.3L1598.3,370.0L1585.0,368.3L1570.0,365.8L1569.2,372.0Z" fill="#d1ddf2"/>
<path d="M1600.0,276.7L1610.0,275.0L1613.3,280.0L1608.3,286.7L1603.3,283.3Z" fill="#d1ddf2"/>
<path d="M1583.3,301.7L1593.3,290.0L1596.7,303.3L1589.2,314.2Z" fill="#d1ddf2"/>
<path d="M1603.3,315.0L1609.2,310.0L1612.5,319.2L1606.7,320.0Z" fill="#d1ddf2"/>
<path d="M1535.8,303.3L1540.8,300.0L1544.2,308.3L1540.0,309.2Z" fill="#d1ddf2"/>
<path d="M1623.3,161.8L1630.0,158.5L1634.2,162.7L1631.7,168.0L1631.7,168.0L1628.3,170.5L1624.2,168.0Z" fill="#fdd092"/>
<path d="M1635.0,191.3L1638.3,184.7L1646.7,176.3L1651.7,178.0L1650.0,181.3L1645.0,183.8L1641.7,191.3L1638.3,195.5Z" fill="#fdd092"/>
<path d="M1661.7,270.0L1665.0,266.7L1667.5,273.3L1664.2,277.5Z" fill="#fee4a3"/>
<path d="M1996.7,305.0L1999.2,299.7L2001.7,305.0L2000.0,310.8Z" fill="#fee4a3"/>
<path d="M1973.3,270.0L1974.2,275.8L1977.0,273.7L1978.0,265.0L1975.0,263.3Z" fill="#fee4a3"/>
<path d="M1560.8,295.0L1566.7,283.3L1571.7,281.7L1565.8,291.7Z" fill="#fee4a3"/>
<path d="M1488.3,122.7L1490.8,121.0L1490.0,125.2Z" fill="#fee4a3"/>
<path d="M1598.3,354.2L1603.3,351.7L1600.8,356.7Z" fill="#fee4a3"/>
<g fill="none" stroke="#33261f" stroke-width="1.3" stroke-linejoin="round" stroke-linecap="round">
<path d="M1507.5,90.2L1500.0,101.0L1490.0,116.0L1485.0,124.3L1480.8,137.7L1476.7,149.3L1474.2,159.3L1471.7,168.0L1466.7,174.7L1460.0,184.7L1456.7,194.7L1456.3,204.7L1458.3,214.7L1462.5,224.7L1465.8,238.0L1467.5,251.3L1469.2,261.3L1470.8,270.0L1476.7,286.7L1485.0,303.3L1491.7,316.7L1495.0,330.0L1496.7,345.0L1498.0,365.0"/>
<path d="M1498.3,87.7L1493.3,101.0L1486.7,114.3L1481.7,124.3L1476.7,137.7L1473.3,152.7L1468.3,168.0L1458.3,178.0L1452.5,188.0L1450.5,201.3L1453.0,214.7L1457.2,226.3L1460.8,238.0L1462.5,251.3L1464.2,261.3L1465.8,270.0L1471.7,286.7L1474.2,303.3L1483.3,316.7L1488.3,330.0L1491.7,345.0L1494.2,365.0"/>
<path d="M1493.3,85.2L1488.3,99.3L1480.0,112.7L1475.0,122.7L1471.7,136.0L1466.7,152.7L1461.7,168.0L1451.7,178.0L1445.8,188.0L1443.3,201.3L1445.0,214.7L1450.0,226.3L1455.0,238.0L1456.7,251.3L1458.3,261.3L1460.0,270.0L1463.3,286.7L1465.0,303.3L1475.0,318.3L1481.7,330.0L1487.5,345.0L1491.3,365.0"/>
<path d="M1460.0,97.7L1465.0,103.5L1471.7,99.3L1475.8,92.7"/>
<path d="M1435.0,189.7L1437.5,201.3L1431.7,211.3L1435.0,223.0L1443.3,234.7L1449.2,246.3L1451.7,258.0L1452.5,270.0L1451.7,280.0L1455.8,295.0L1461.7,308.3L1468.3,320.0L1476.7,331.7L1483.3,345.0L1488.7,365.0"/>
<path d="M1427.5,231.3L1435.0,238.0L1441.7,248.0L1443.3,261.3L1445.8,270.0L1445.8,280.0L1449.2,295.0L1453.3,310.0L1463.3,321.7L1472.5,333.3L1480.0,346.7L1486.3,365.0"/>
<path d="M1447.5,318.3L1458.3,325.0L1468.3,335.0L1476.7,348.3L1484.2,365.0"/>
<path d="M1553.3,100.2L1553.3,112.7L1543.3,113.5L1540.0,121.0L1543.3,129.3L1546.7,139.3L1541.7,147.7L1536.7,153.5L1526.7,156.3L1516.7,158.0L1503.3,162.7L1493.3,161.0L1481.7,157.7L1474.2,160.2L1471.7,168.0L1465.0,178.0L1461.7,189.7L1461.7,201.3L1464.2,213.0L1468.3,224.7L1471.7,238.0L1474.2,251.3L1476.7,261.3L1479.2,270.0L1483.3,280.0L1490.0,295.0L1496.7,310.0L1500.0,323.3L1503.3,336.7L1504.2,350.0L1503.3,365.0"/>
<path d="M1860.0,429.5L1859.2,422.0L1860.0,416.2L1866.7,412.0L1873.3,407.0L1878.3,400.3L1881.7,387.0L1885.0,372.0L1888.3,360.0L1893.3,350.0L1900.0,341.7L1906.7,333.3L1910.0,326.7L1920.0,321.7L1926.7,315.0L1933.3,309.2L1944.2,304.2L1943.3,315.0L1940.0,325.0L1938.3,330.0L1946.7,332.5L1963.3,333.3L1970.0,321.7L1976.7,310.0L1981.7,300.0L1988.3,288.3L1995.0,280.0L2001.7,275.0L2005.0,270.0L2010.0,263.0L2018.3,257.2"/>
<path d="M1478.3,224.7L1485.0,216.3L1496.7,209.7L1508.3,202.2L1516.7,187.2L1525.0,171.3L1533.3,184.7L1538.3,193.0L1542.5,201.3L1533.3,200.5L1525.0,200.5L1516.7,205.5L1510.8,208.8L1509.2,223.0L1507.5,238.0L1505.0,251.3L1503.3,261.3L1505.0,270.0L1505.8,270.0L1526.7,275.0L1541.7,280.0L1548.3,290.0L1560.0,303.3L1566.7,305.0L1576.7,288.3L1585.0,278.3L1590.0,270.0L1589.2,270.0L1586.7,261.3L1596.7,254.7L1605.0,246.3L1615.0,248.0L1620.0,261.3L1625.0,270.0L1625.0,270.0L1616.7,280.0L1616.7,296.7L1620.0,310.0L1628.3,325.0L1640.0,330.0L1651.7,333.3L1663.3,325.0L1665.0,310.0L1670.0,301.7L1673.3,313.3L1680.0,320.0L1683.3,336.7L1685.0,350.0L1686.7,363.3L1690.0,372.0L1695.0,380.3L1698.3,392.0L1697.5,405.3L1698.3,415.3L1695.0,423.7L1693.3,432.0L1688.3,437.8L1683.3,458.7L1643.3,448.7L1593.3,427.0L1551.7,412.0L1526.7,392.0L1551.7,363.3L1543.3,350.0L1535.0,336.7L1525.8,327.5L1505.0,338.3L1503.3,365.0L1493.3,360.0L1488.3,340.0L1485.0,320.0L1480.0,300.0L1475.0,280.0L1476.7,268.0L1475.0,254.7L1475.8,239.7Z"/>
<path d="M1505.0,338.3L1525.8,327.5L1535.0,336.7L1543.3,350.0L1551.7,363.3L1555.0,372.0L1553.3,375.3L1543.3,384.5L1518.3,372.0L1503.3,370.0Z"/>
<path d="M1950.8,428.3L1960.0,426.2L1971.7,425.0L1984.2,425.7"/>
<path d="M1924.2,430.3L1928.3,420.3L1935.8,426.2Z"/>
<path d="M1704.2,427.0L1710.0,420.3L1718.3,422.0L1725.0,428.7L1716.7,436.2L1708.3,433.7Z"/>
<path d="M1713.3,460.8L1726.7,460.0L1735.0,460.8L1743.3,465.0L1750.0,478.3"/>
<path d="M1726.7,490.0L1735.0,492.5L1736.7,496.7Z"/>
<path d="M1991.7,475.0L2000.0,467.8L2005.8,463.3"/>
<path d="M1466.7,178.0L1476.7,169.7L1485.0,171.3L1489.2,176.3L1485.0,183.0L1476.7,188.0L1468.3,188.8L1465.0,184.7Z"/>
<path d="M1526.7,211.3L1536.7,212.2L1543.3,218.0L1551.7,229.7L1546.7,238.0L1540.0,253.0L1531.7,258.8L1525.0,254.7L1521.7,248.0L1525.0,234.7L1525.0,221.3Z"/>
<path d="M1563.3,103.5L1561.7,116.0L1568.3,122.7L1573.3,132.7L1570.0,141.0L1565.0,149.3L1555.0,151.0L1546.7,152.7L1541.7,156.8L1536.7,162.7L1533.3,168.0L1536.7,168.0L1541.7,178.0L1543.3,189.7L1548.3,196.3L1560.0,199.7L1570.0,203.0L1576.7,205.5L1581.7,211.3L1580.0,219.7L1583.3,224.7L1583.3,238.0L1586.7,248.0L1590.0,251.3L1598.3,241.3L1610.0,239.7L1623.3,231.3L1628.3,234.7L1630.0,246.3L1631.7,258.0L1628.3,270.0L1620.0,275.0L1616.7,286.7L1616.7,300.0L1621.7,311.7L1628.3,320.0L1631.7,328.3L1650.0,333.3L1663.3,323.3L1665.0,310.0L1670.0,301.7L1675.0,283.3L1675.0,270.0L1678.3,283.3L1685.0,295.0L1693.3,306.7L1700.0,318.3L1705.0,328.3L1710.0,336.7L1715.0,345.0L1718.3,353.3L1721.7,361.7L1726.7,366.7L1736.7,370.0L1746.7,368.3L1755.0,365.0L1750.0,363.3L1756.7,356.7L1761.7,350.0L1768.3,340.0L1775.0,333.3L1783.3,325.8L1790.0,323.3L1800.0,327.5L1813.3,324.2L1823.3,321.7L1831.7,325.0L1843.3,328.3L1850.0,327.5L1855.0,321.7L1857.5,313.3L1858.3,310.0L1866.7,305.0L1876.7,298.3L1886.7,288.3L1896.7,282.5L1906.7,278.3L1915.0,274.2L1918.3,270.0L1925.0,261.3L1933.3,256.3L1941.7,251.3L1942.5,246.3L1940.0,239.7L1935.8,235.5"/>
<path d="M1965.8,217.2L1961.7,231.3L1965.0,236.3L1973.3,241.3L1981.7,246.3L1990.0,241.3L2000.0,231.3L2006.7,227.2L2016.7,230.5L2026.7,229.7L2033.3,223.0L2043.3,214.7L2053.3,209.7L2061.7,206.3L2068.3,200.5"/>
<path d="M1616.7,280.0L1621.7,270.0L1626.7,260.0L1636.7,251.7L1643.3,255.0L1650.0,263.3L1656.7,270.0L1661.7,280.0L1665.0,291.7L1655.0,296.7L1653.3,310.0L1643.3,311.7L1631.7,310.0L1621.7,305.0L1617.5,293.3Z"/>
<path d="M1572.5,105.2L1578.3,114.3L1583.3,124.3L1585.0,132.7L1593.3,121.0L1601.7,117.7L1610.0,122.7L1616.7,131.0L1625.0,137.7L1635.0,141.0L1643.3,149.3L1646.7,159.3L1650.0,168.0L1655.0,181.3L1658.3,194.7L1661.7,206.3L1665.0,211.3L1670.0,216.3L1675.0,218.0L1683.3,219.7L1690.0,224.7L1691.7,234.7L1695.0,241.3L1701.7,248.0L1705.0,258.0L1706.7,270.0L1710.0,270.0L1715.0,286.7L1721.7,300.0L1728.3,311.7L1736.7,320.0L1743.3,323.3L1750.0,316.7L1755.0,310.0L1750.0,310.0L1755.0,307.5L1763.3,304.2L1771.7,300.0L1778.3,295.0L1783.3,288.3L1788.3,282.5L1800.0,280.8L1806.7,276.7L1813.3,271.7L1816.7,270.0L1825.0,261.3L1833.3,254.7L1846.7,249.7L1856.7,246.3L1863.3,241.3L1866.7,234.7L1870.3,223.8"/>
<path d="M1893.3,188.8L1895.0,199.7L1900.0,208.0L1908.3,203.8L1917.5,199.3"/>
<path d="M2007.5,173.0L2011.7,184.7L2020.0,195.5L2030.0,193.0L2036.7,188.0L2046.7,189.7L2055.0,186.3L2061.7,178.0L2066.7,171.3L2073.3,161.0L2081.7,151.0L2090.0,142.7L2099.2,137.3"/>
<path d="M1586.7,184.7L1593.3,174.7L1603.3,169.7L1615.0,173.0L1620.0,184.7L1623.3,201.3L1625.0,218.0L1626.7,231.3L1616.7,234.7L1606.7,239.7L1595.0,241.3L1588.3,239.7L1587.5,223.0L1588.3,201.3Z"/>
<path d="M1589.2,188.0L1595.0,178.0L1603.3,173.0L1612.5,176.3L1616.7,188.0L1618.3,204.7L1618.3,219.7L1615.0,229.7L1605.0,233.0L1593.3,233.0L1590.8,221.3L1590.8,201.3Z"/>
<path d="M1621.7,280.0L1625.0,270.0L1630.0,261.7L1637.5,255.0L1646.7,261.7L1655.0,270.0L1658.3,280.0L1656.7,290.0L1651.7,298.3L1650.0,307.5L1641.7,309.2L1631.7,306.7L1625.0,300.0L1622.5,290.0Z"/>
<path d="M1630.8,114.0L1640.0,122.7L1648.3,131.0L1656.7,137.7L1663.3,146.0L1668.3,156.0L1673.3,168.0L1686.7,178.0L1693.3,184.7L1701.7,191.3L1710.0,196.3L1715.0,204.7L1721.7,211.3L1730.0,218.0L1733.3,226.3L1735.0,238.0L1736.7,241.3L1746.7,239.7L1750.0,243.8L1761.7,244.7L1773.3,245.5L1783.3,247.2L1793.3,243.8L1803.3,239.7L1811.7,241.3L1820.0,238.0L1826.7,229.7L1831.7,219.7L1835.0,211.3L1843.3,205.5L1853.3,200.5L1860.0,194.7L1866.7,188.0L1871.7,179.7L1875.0,173.0L1873.3,168.0L1872.5,161.0L1868.0,155.2"/>
<path d="M2060.0,169.0L2065.0,161.0L2070.0,152.7L2076.7,142.7L2083.3,132.7L2090.8,121.8"/>
<path d="M1593.3,186.3L1598.3,179.7L1605.0,178.0L1610.0,183.0L1613.3,193.0L1614.2,208.0L1611.7,221.3L1605.0,226.3L1596.7,225.5L1594.2,216.3L1594.2,199.7Z"/>
<path d="M1626.7,280.0L1630.0,270.0L1633.3,263.3L1638.3,258.3L1646.7,265.0L1653.3,271.7L1655.0,281.7L1651.7,291.7L1648.3,301.7L1640.0,304.2L1633.3,301.7L1628.3,291.7Z"/>
<path d="M1652.5,116.8L1660.0,123.5L1670.0,127.7L1680.0,131.8L1685.0,136.0L1691.7,146.0L1696.7,156.0L1703.3,162.7L1710.0,168.0L1720.0,178.0L1733.0,187.0L1745.0,197.0L1750.0,200.5L1758.3,205.5L1768.3,208.8L1773.3,212.2L1783.3,212.2L1785.8,206.3L1788.3,196.3L1791.7,186.3L1798.3,178.0L1808.3,175.5L1820.0,174.7L1830.0,178.0L1840.0,183.0L1848.3,183.8L1856.7,180.5L1860.8,173.0L1861.7,168.0L1858.3,159.3L1850.8,151.8"/>
<path d="M2051.3,156.8L2055.0,162.7L2058.3,159.3L2061.7,152.7L2065.0,142.7L2070.0,129.3L2075.0,116.0L2080.0,104.7"/>
<path d="M1597.5,184.7L1603.3,181.3L1608.3,184.7L1610.8,194.7L1610.0,208.0L1606.7,219.7L1600.0,223.0L1596.7,216.3L1596.7,199.7Z"/>
<path d="M1631.7,278.3L1635.0,270.0L1639.2,262.5L1646.7,268.3L1651.7,273.3L1652.5,281.7L1648.3,290.0L1643.3,298.3L1636.7,298.3L1632.5,288.3Z"/>
<path d="M1690.0,121.8L1700.0,127.7L1710.0,132.7L1718.3,139.3L1725.0,147.7L1733.3,154.3L1743.3,157.7L1753.3,156.8L1750.0,158.5L1763.3,151.8L1770.0,156.0L1779.2,162.7L1788.3,154.3L1796.7,147.7L1805.0,151.0L1813.3,154.3L1820.0,147.7L1825.0,141.0L1829.7,133.5"/>
<path d="M1600.0,186.3L1607.5,184.7L1608.3,189.7L1605.0,196.3L1604.2,213.0L1601.7,213.8L1600.0,203.0L1599.2,193.0Z"/>
<path d="M1636.7,275.0L1640.8,266.7L1646.7,271.7L1650.0,276.7L1646.7,281.7L1641.7,286.7L1640.0,280.0Z"/>
<path d="M1729.2,123.5L1733.3,128.5L1741.7,128.5L1750.0,124.3"/>
<path d="M1508.3,120.2L1525.0,131.0L1525.8,136.0L1520.0,144.3L1510.0,149.3L1500.8,154.3L1496.7,151.0L1497.5,139.3L1501.7,129.3Z"/>
<path d="M1569.2,370.3L1566.7,380.3L1561.7,387.0L1556.7,393.7L1576.7,401.2L1603.3,404.5L1604.2,397.0L1626.7,395.3L1646.7,425.3L1665.0,433.7L1665.8,428.7L1665.0,418.7L1662.5,402.0L1663.3,388.7L1664.2,372.0L1668.3,363.3L1669.2,348.3L1665.0,344.2L1655.0,346.7L1648.3,358.3L1640.0,355.0L1638.3,343.3L1636.7,340.0L1621.7,343.3L1618.3,353.3L1610.0,360.0L1601.7,368.3L1598.3,370.0L1585.0,368.3L1570.0,365.8L1569.2,372.0Z"/>
<path d="M1600.0,276.7L1610.0,275.0L1613.3,280.0L1608.3,286.7L1603.3,283.3Z"/>
<path d="M1583.3,301.7L1593.3,290.0L1596.7,303.3L1589.2,314.2Z"/>
<path d="M1603.3,315.0L1609.2,310.0L1612.5,319.2L1606.7,320.0Z"/>
<path d="M1535.8,303.3L1540.8,300.0L1544.2,308.3L1540.0,309.2Z"/>
<path d="M1623.3,161.8L1630.0,158.5L1634.2,162.7L1631.7,168.0L1631.7,168.0L1628.3,170.5L1624.2,168.0Z"/>
<path d="M1635.0,191.3L1638.3,184.7L1646.7,176.3L1651.7,178.0L1650.0,181.3L1645.0,183.8L1641.7,191.3L1638.3,195.5Z"/>
<path d="M1661.7,270.0L1665.0,266.7L1667.5,273.3L1664.2,277.5Z"/>
<path d="M1996.7,305.0L1999.2,299.7L2001.7,305.0L2000.0,310.8Z"/>
<path d="M1973.3,270.0L1974.2,275.8L1977.0,273.7L1978.0,265.0L1975.0,263.3Z"/>
<path d="M1560.8,295.0L1566.7,283.3L1571.7,281.7L1565.8,291.7Z"/>
<path d="M1488.3,122.7L1490.8,121.0L1490.0,125.2Z"/>
<path d="M1598.3,354.2L1603.3,351.7L1600.8,356.7Z"/>
</g>
</g>
<g fill="none" stroke="#7d7d7d" stroke-width="1.15" stroke-linejoin="round">
<path d="M1456.8,121.6L1465.8,125.5L1468.2,127.6L1468.7,132.0L1468.7,136.2L1474.1,138.2L1482.5,138.3L1485.6,140.9L1491.4,140.7L1499.7,140.9L1507.4,140.9L1511.8,140.9L1511.8,140.9L1523.3,143.6L1534.8,146.2M1544.4,98.4L1535.0,139.2L1534.8,146.2M1534.8,146.2L1538.1,153.6L1534.8,157.9L1531.7,164.0L1526.2,169.5L1527.6,174.0L1527.7,177.4L1525.6,181.1L1519.0,210.0M1434.4,187.8L1446.2,191.3L1458.0,194.7L1469.9,198.0L1481.9,201.1L1493.8,204.1L1505.8,207.0L1517.9,209.8L1529.9,212.4L1542.0,214.9L1554.1,217.3L1566.3,219.5L1578.4,221.6L1590.6,223.6M1483.9,201.6L1471.4,249.6L1524.9,329.4M1524.9,329.4L1524.5,331.5L1526.9,339.0L1529.1,342.5L1523.3,346.7L1521.5,352.3L1518.5,355.0L1520.0,361.5L1516.3,366.0M1524.9,329.4L1526.4,319.6L1526.8,312.6L1531.5,312.2L1536.2,312.2L1538.9,298.4M1538.9,298.4L1554.6,217.4M1538.9,298.4L1552.0,300.9L1565.2,303.2L1578.3,305.3L1591.5,307.3L1604.8,309.2L1618.0,310.9L1631.3,312.5L1644.6,313.9L1657.9,315.2L1671.2,316.4L1684.5,317.4L1697.8,318.3L1711.2,319.0L1724.5,319.6L1737.9,320.1L1751.2,320.4L1764.6,320.5L1777.9,320.6L1791.3,320.4M1612.4,243.5L1603.3,309.0L1590.4,401.6M1588.0,239.9L1600.2,241.8L1612.4,243.5L1624.7,245.1L1637.0,246.6L1649.2,248.0L1661.5,249.2L1673.9,250.3L1686.2,251.3L1698.5,252.1M1588.0,239.9L1590.6,223.6L1597.1,183.5M1554.9,100.7L1551.5,116.5L1554.3,122.1L1553.4,126.0L1557.3,129.3L1560.2,134.9L1564.7,141.6L1565.3,144.2L1562.8,153.7L1560.0,159.0L1562.6,161.2L1567.3,157.9L1568.5,160.6L1570.6,168.5L1572.6,173.9L1576.1,180.3L1581.2,182.1L1586.1,181.2L1592.1,181.4L1593.6,179.2L1597.1,183.5M1598.5,174.9L1610.0,176.7L1621.5,178.4L1633.1,179.9L1644.7,181.3L1656.3,182.6L1667.9,183.7L1679.5,184.8M1685.0,119.9L1673.9,250.3M1680.8,169.4L1693.1,170.4L1705.3,171.2L1717.6,171.9L1729.9,172.5L1742.2,172.9L1754.5,173.1L1766.8,173.3M1676.7,217.5L1690.0,218.5L1703.3,219.4L1716.6,220.1L1729.9,220.7L1743.2,221.1L1748.6,225.1L1756.4,223.5L1761.2,225.4L1767.8,229.7M1698.5,252.1L1697.5,268.6M1697.5,268.6L1711.5,269.4L1725.6,270.1L1739.7,270.5L1753.8,270.8L1767.9,271.0L1782.0,271.0M1697.5,268.6L1694.3,318.1M1681.9,317.2L1681.3,325.5L1674.9,399.4M1674.9,399.4L1658.4,398.1L1642.0,396.6L1625.5,394.8L1626.4,398.6M1681.3,325.5L1694.4,326.4L1707.5,327.1L1720.7,327.7L1719.3,359.7L1723.2,362.5L1729.9,366.1L1738.0,367.1L1744.8,368.1L1750.1,371.5L1757.6,374.1L1765.1,371.7L1768.5,375.0L1776.0,370.9L1782.8,372.5L1790.3,375.7L1793.9,375.9L1800.0,377.2L1800.2,386.0L1800.6,402.9L1803.8,409.2L1807.8,415.7L1807.9,420.6L1805.6,427.3L1806.1,433.8L1804.1,440.4M1793.9,375.9L1794.2,347.0L1791.4,328.7L1791.3,320.4L1791.0,285.4L1787.2,280.8L1784.6,278.0L1787.1,273.4L1782.0,271.0L1776.1,261.4L1774.9,254.5L1774.2,250.2L1772.0,241.3L1769.0,234.7L1767.8,229.7L1767.3,221.5L1766.1,213.3L1767.9,213.3L1768.0,183.8L1763.4,178.8L1766.8,173.3L1766.4,167.4L1764.4,158.1L1763.7,147.8L1761.5,140.8L1760.5,131.6L1759.8,123.5M1767.9,213.3L1780.4,213.3L1792.8,213.1L1805.3,212.9L1817.8,212.4L1830.2,211.9M1776.1,261.4L1788.7,261.3L1801.2,261.1L1813.8,260.7L1826.3,260.2L1830.4,263.4M1817.6,160.0L1815.5,160.7L1815.8,170.2L1812.9,172.4L1809.4,176.1L1809.3,178.8L1811.0,183.1L1810.9,188.1L1810.7,192.2L1815.5,195.3L1820.3,197.5L1824.7,203.1L1829.2,206.2L1830.2,211.9L1831.2,219.2L1832.6,224.1L1838.0,228.0L1844.2,234.2L1844.1,239.5L1840.7,244.3L1834.3,245.5L1834.9,250.4L1834.0,256.2L1830.4,263.4L1830.6,270.8L1835.8,278.5L1840.6,285.7L1847.1,287.4L1847.6,291.4L1846.5,298.6L1851.2,302.4L1857.3,306.1L1857.8,312.7L1862.9,317.3L1858.3,326.0L1856.6,334.3L1854.4,341.1L1852.6,348.7L1849.7,351.3L1846.6,356.5L1844.3,363.2L1840.3,370.0L1838.8,375.9L1840.0,379.9L1839.7,384.9L1841.0,391.4L1844.0,395.4L1841.5,401.3L1837.4,408.7L1835.1,418.0L1835.1,418.0L1861.7,416.6L1860.8,422.4L1865.1,429.5M1838.0,228.0L1855.2,226.9L1872.4,225.5M1836.8,161.2L1843.0,165.2L1852.3,167.0L1859.3,169.0L1864.2,171.8L1867.8,173.2L1867.7,178.9L1870.7,182.8M1876.7,237.4L1880.3,277.0L1880.9,284.4L1881.6,287.7L1876.5,295.6L1876.1,303.1M1862.9,317.3L1864.4,313.9L1869.7,315.7L1871.6,314.2L1875.7,308.9L1876.1,303.1L1881.5,300.1L1888.0,300.4L1894.5,300.6L1895.5,298.0L1897.7,294.4L1901.3,297.4L1904.5,292.6L1906.2,289.4L1908.2,284.5L1914.4,282.6L1914.9,277.6L1918.9,277.1L1923.4,282.1L1929.1,283.4L1938.6,280.8L1944.4,285.1L1949.1,281.5L1949.3,277.2L1953.5,274.1L1955.5,269.3L1959.6,266.5L1963.2,260.9L1963.7,254.7L1964.2,249.1L1964.8,244.9M1967.2,259.9L1961.1,223.1M1914.9,277.6L1909.9,235.0M1926.4,232.4L1909.9,235.0L1909.8,234.0L1885.4,236.6M1858.3,326.0L1877.7,324.5L1877.4,321.5L1897.8,320.3L1917.4,318.6L1934.6,316.8L1960.6,313.2M1934.6,316.8L1941.9,311.7L1945.9,306.4L1951.0,303.4L1954.6,298.4L1950.0,296.8L1946.8,292.6L1944.6,289.3L1944.4,285.1M1791.4,328.7L1806.1,328.4L1820.8,327.9L1835.5,327.3L1850.2,326.5L1847.6,334.9L1856.6,334.3M1800.2,386.3L1820.0,385.7L1839.7,384.9M1849.7,351.3L1863.4,350.4L1877.2,349.4L1891.0,348.2L1904.7,346.9L1918.4,345.4L1932.1,343.7L1945.8,342.0M1877.8,349.3L1879.4,415.3L1881.4,428.0M1912.5,346.0L1922.1,380.3L1925.4,386.9L1924.6,396.1L1926.5,402.5L1928.2,410.6L1930.7,415.2L1957.1,413.5L1968.4,412.4L1970.3,415.6L1971.5,409.0L1978.5,408.4M1891.7,414.3L1909.9,412.5L1928.2,410.6M1891.7,414.3L1893.9,425.9M1983.5,385.9L1977.5,379.0L1972.1,371.5L1964.5,364.8L1955.4,357.3L1948.9,349.9L1943.1,347.0L1945.8,342.0M1945.8,342.0L1954.6,337.4L1972.5,335.1L1972.9,336.3L1974.6,337.7L1976.8,340.4L1991.7,338.3L2009.5,351.0M1929.6,344.1L1933.2,338.6L1939.2,333.5L1944.0,329.4L1950.1,324.7L1956.3,321.8L1961.0,317.3L1960.6,313.2M1960.8,314.0L1975.8,311.6L1990.9,309.1L2005.9,306.3L2020.9,303.4L2035.9,300.3M1954.6,298.4L1959.1,303.4L1965.1,300.8L1969.7,300.9L1976.2,296.5L1975.5,292.4L1979.0,286.0L1981.7,278.8L1987.1,276.2L1990.3,270.6L1995.4,265.4L2003.1,260.3M2003.1,260.3L2000.1,256.1L1996.1,255.2L1992.8,258.3L1989.2,257.3L1986.3,261.2L1981.5,266.2L1980.2,257.8M1967.2,259.9L1981.9,257.5L1996.6,254.8L2011.2,251.9L2025.7,248.9M1967.2,259.9L1964.8,244.9M2003.1,260.3L2006.3,261.7L2012.1,264.7L2012.0,270.7L2012.2,274.8L2016.2,274.9L2025.4,278.1M2025.7,248.9L2031.3,269.0L2039.4,267.3M2025.7,248.9L2027.7,246.6L2030.0,246.7M2029.6,252.6L2030.0,246.7L2033.0,243.5L2037.3,239.1L2032.4,236.0L2029.4,231.6L2029.3,226.5L2033.1,219.6L2028.9,218.1L2026.5,212.8L2022.8,211.0M2022.8,211.0L2009.7,213.8L1996.6,216.5L1983.4,219.0L1970.2,221.3L1969.5,216.9M2033.1,219.6L2044.0,223.2L2043.7,228.3L2041.7,232.2M2047.0,222.5L2045.7,221.1L2047.1,217.4L2044.8,205.2L2044.7,193.3L2041.6,179.7L2039.8,180.1L2038.3,173.7L2036.9,165.6L2034.9,157.5M2054.3,191.3L2053.0,185.4L2052.0,177.1L2053.2,170.0L2055.2,163.6L2055.8,156.7L2055.8,152.2M2044.7,193.3L2054.3,191.3L2067.9,188.3L2069.8,186.1L2072.7,184.0M2044.8,205.2L2064.9,200.5L2069.9,199.4L2070.4,201.3L2071.6,203.5L2075.1,206.9M2064.9,200.7L2067.2,212.0M2073.1,180.6L2068.0,173.5L2059.3,146.4"/>
<path d="M1483.5,82.9L1485.1,87.0L1483.5,91.3L1483.7,96.4L1484.2,100.8L1481.5,105.9L1479.1,110.3L1475.0,112.5L1474.8,109.1L1478.9,105.2L1480.5,99.7L1479.4,96.0L1475.8,95.8L1471.8,93.8L1465.6,91.1L1459.9,86.3L1458.8,89.9L1458.4,94.0L1459.3,101.1L1459.3,107.9L1459.1,110.4L1459.0,114.6L1456.8,121.6L1456.0,127.4L1454.1,133.6L1451.2,141.3L1448.8,146.9L1445.1,156.6L1439.4,166.1L1434.5,173.4L1433.9,180.7L1434.4,187.8L1433.4,191.8L1433.2,197.8L1430.6,203.0L1428.2,207.5L1424.5,211.7L1424.3,214.9L1426.6,219.4L1428.2,225.6L1426.9,229.5L1425.5,237.7L1428.4,244.6L1430.7,250.5L1429.9,255.4L1433.2,258.1L1435.2,260.3L1433.8,265.1L1433.7,270.2L1436.4,274.9L1439.7,277.9L1437.3,281.5L1435.9,286.3L1439.7,292.5L1441.3,298.9L1445.0,304.7L1446.3,308.8L1445.8,312.9L1444.5,318.0L1446.3,320.7L1453.6,323.1L1457.5,324.4L1460.9,327.5L1462.8,330.9L1467.8,333.3L1470.3,334.4L1470.7,338.7L1474.0,339.5L1476.7,342.7L1478.9,345.5L1481.9,350.6L1482.4,356.6L1482.1,359.6L1483.2,362.2L1516.3,366.0L1514.4,369.5L1562.3,397.4L1602.1,403.1L1603.1,395.8L1626.4,398.6L1633.1,405.6L1638.7,412.7L1646.5,420.1L1649.1,430.2L1653.2,437.8L1661.0,442.7L1669.9,448.8L1673.8,445.4L1678.0,436.6L1683.1,436.2L1695.9,437.4L1702.7,444.5L1708.0,455.6L1712.0,463.9L1721.7,475.7L1724.3,486.4L1727.8,493.8L1740.3,499.9L1749.3,501.7L1756.0,501.6L1753.9,491.2L1752.9,479.8L1757.9,471.2L1760.8,466.8L1767.4,462.0L1774.0,458.7L1783.4,453.0L1790.6,447.2L1796.2,443.0L1804.1,440.4L1811.9,439.1L1822.1,441.5L1827.8,442.1L1832.7,438.7L1837.9,442.5L1840.9,444.8L1845.4,447.1L1849.8,449.3L1857.0,448.0L1859.7,445.4L1864.0,444.3L1867.7,446.5L1868.7,449.7L1872.2,448.7L1871.2,443.8L1866.5,439.2L1867.7,435.1L1869.6,431.6L1864.5,430.3L1868.6,427.6L1874.1,425.6L1879.1,426.0L1885.7,427.1L1886.7,422.9L1890.6,425.9L1891.3,426.6L1898.3,424.7L1908.1,422.6L1913.9,423.7L1920.0,426.3L1925.6,432.8L1930.7,431.7L1938.8,427.5L1942.7,424.0L1947.9,425.5L1953.5,429.7L1959.6,437.2L1965.4,442.1L1965.4,452.0L1965.5,456.1L1967.5,461.6L1970.4,456.3L1969.9,462.9L1971.1,466.0L1973.0,469.1L1976.9,475.1L1981.9,478.4L1984.8,482.9L1986.4,486.3L1990.0,487.1L1994.4,490.5L1998.1,497.8L2000.3,497.1L2007.3,495.0L2008.4,490.7L2010.5,485.1L2010.1,479.8L2009.5,470.0L2008.2,466.1L2006.1,462.3L2001.9,455.6L1997.8,448.8L1997.4,442.9L1993.5,438.7L1988.8,432.1L1982.7,421.4L1980.0,413.5L1978.5,408.4L1978.1,401.4L1980.5,393.5L1983.5,385.9L1985.2,383.6L1988.1,379.8L1994.5,372.1L2000.6,366.8L2003.0,363.1L2005.7,354.2L2009.5,351.0L2017.5,349.7L2018.5,343.5L2021.6,338.6L2027.6,334.1L2034.0,333.6L2038.3,326.0L2045.0,320.9L2042.9,311.5L2039.6,307.1L2035.9,300.3L2033.5,295.8L2032.9,294.6L2029.0,295.0L2027.1,289.5L2026.7,284.5L2025.4,278.1L2023.1,273.5L2019.8,262.8L2018.6,258.4L2023.1,252.4L2023.1,258.3L2023.3,268.4L2028.4,274.0L2032.6,278.2L2031.5,285.2L2032.6,291.4L2035.3,284.4L2037.7,277.1L2039.5,269.4L2037.7,261.9L2032.4,256.3L2029.6,252.6L2034.5,254.1L2038.6,254.9L2039.2,259.3L2043.9,251.0L2046.4,243.8L2044.8,232.0L2043.7,230.0L2044.7,230.3L2053.9,227.1L2062.6,221.2L2068.2,216.0L2063.3,215.7L2055.0,221.4L2048.0,223.9L2045.3,225.9L2048.1,221.7L2051.8,218.6L2055.0,216.0L2061.5,214.3L2064.3,212.8L2067.2,212.2L2071.5,210.2L2071.0,204.6L2073.2,207.9L2074.4,207.8L2076.0,206.6L2077.4,204.6L2080.0,201.3L2080.4,205.1L2084.3,202.2L2088.3,200.4L2087.6,197.5L2083.5,194.9L2086.3,197.0L2087.2,198.8L2083.9,200.7L2081.3,200.6L2078.8,198.2L2076.9,194.5L2072.9,193.0L2073.3,191.2L2076.3,186.9L2073.1,185.2L2073.1,180.6L2073.9,179.1L2074.7,175.4L2075.9,170.0L2078.1,166.8L2080.5,167.8L2082.1,164.8L2083.7,164.7L2087.0,159.2L2088.2,152.8L2092.2,155.9L2095.4,154.2L2097.8,152.1L2101.9,147.4L2103.5,144.8L2107.8,140.8L2107.0,139.5L2102.3,136.1L2098.6,130.1L2093.8,129.0L2093.0,125.8L2087.5,108.3L2085.6,107.4L2080.3,105.6L2077.9,108.1L2075.0,110.2L2073.3,110.3L2070.2,106.8L2065.2,121.1L2065.8,126.0L2065.1,131.3L2066.0,134.4L2065.2,138.0L2063.7,143.5L2062.1,146.5L2059.3,146.4L2055.9,148.1L2055.8,152.2L2034.9,157.5L2019.6,161.2L2013.3,165.1L2011.6,168.0L2007.6,174.8L2003.8,179.3L2006.1,181.8L2007.1,189.2L2000.2,193.9L1992.1,196.2L1984.7,195.8L1974.8,199.4L1977.9,205.2L1973.7,212.3L1965.7,219.5L1960.8,223.4L1958.0,225.0L1948.1,233.2L1942.4,234.5L1936.1,235.8L1935.6,234.2L1926.2,232.9L1927.2,229.5L1929.3,222.5L1932.2,217.2L1935.8,210.0L1932.3,200.5L1927.1,193.5L1923.3,196.0L1917.4,201.7L1919.0,195.7L1920.9,191.3L1922.0,188.7L1919.3,178.3L1918.1,173.5L1914.3,172.8L1906.1,170.1L1902.9,168.3L1901.1,175.3L1897.7,176.5L1896.1,181.9L1894.5,185.9L1894.5,178.8L1889.0,184.3L1887.5,188.9L1887.1,195.2L1886.1,200.3L1888.7,211.9L1891.0,219.3L1890.8,225.4L1888.8,230.6L1884.4,237.3L1879.7,239.4L1875.7,236.0L1872.3,227.8L1870.6,216.8L1871.8,204.9L1871.8,199.2L1876.0,186.4L1878.2,178.8L1873.1,186.7L1867.1,192.6L1870.7,182.8L1876.3,171.6L1881.7,173.5L1885.2,167.4L1894.1,164.4L1902.8,166.8L1912.0,164.4L1915.3,163.1L1909.2,160.6L1905.8,156.1L1902.5,157.3L1898.5,152.5L1887.0,155.4L1879.8,160.3L1871.1,159.0L1867.0,154.7L1863.8,153.9L1858.9,156.7L1863.4,149.0L1864.4,144.5L1866.5,145.5L1864.4,144.5L1859.7,145.7L1856.3,149.1L1848.9,155.5L1843.6,157.0L1836.8,161.2L1831.5,161.0L1832.0,157.5L1833.3,155.2L1828.8,156.9L1817.6,159.7L1822.2,154.6L1826.7,149.8L1836.7,141.9L1843.7,138.1L1845.8,137.3L1844.5,137.4L1840.0,136.0L1831.6,136.5L1828.7,134.2L1821.1,137.4L1816.5,133.2L1812.6,134.2L1807.0,130.3L1802.0,129.6L1788.7,128.0L1787.8,125.6L1786.1,118.3L1782.5,117.4L1782.6,123.5L1773.3,123.6L1762.3,123.5L1751.3,123.3L1740.3,123.0L1729.4,122.6L1718.4,122.1L1707.5,121.5L1696.5,120.8L1685.6,119.9L1674.7,118.9L1663.7,117.8L1652.8,116.6L1641.9,115.3L1631.1,113.9L1620.2,112.4L1609.4,110.7L1598.5,109.0L1587.7,107.1L1576.9,105.1L1566.2,103.0L1555.4,100.8L1544.7,98.4L1534.0,96.0L1523.4,93.5L1512.7,90.8L1502.1,88.0L1491.5,85.1Z" stroke="#777" stroke-width="1.1"/>
</g></g>
<g id="alaska_a">
<clipPath id="clipak_a"><path d="M268.1,81.3L273.5,82.0L284.2,87.4L289.5,85.6L297.6,89.4L304.3,89.6L311.0,94.7L319.0,98.8L324.4,105.5L329.7,108.1L337.8,114.8L345.8,121.5L353.8,128.2L361.9,133.6L367.2,138.9L367.3,139.8L336.6,201.3L340.4,206.9L343.1,209.6L339.1,212.3L341.1,217.6L345.1,223.0L349.8,225.6L355.2,220.3L359.2,223.0L361.9,231.0L364.6,242.0L368.0,250.0L373.0,262.0L375.0,272.0L370.0,275.0L365.0,268.0L361.0,258.0L357.0,250.0L352.0,242.0L347.1,232.3L341.8,220.3L337.8,214.9L333.7,208.2L329.7,202.9L332.7,204.5L328.8,202.6L319.6,196.7L315.7,190.2L310.5,184.9L306.5,187.5L300.0,188.8L293.5,184.9L285.6,183.6L281.7,182.3L285.6,178.4L288.2,174.5L280.4,173.2L276.5,175.8L272.5,181.0L264.7,181.7L254.2,182.3L241.2,183.6L230.7,183.0L222.8,179.7L215.0,175.8L222.5,180.1L214.5,178.1L206.5,176.1L199.8,173.4L198.4,171.8L203.8,171.4L211.8,173.4L219.9,174.7L227.9,176.7L215.0,173.8L222.8,175.8L232.0,176.4L241.2,175.8L247.7,175.1L250.3,170.5L254.2,167.9L247.7,166.6L243.8,162.7L238.5,156.2L232.0,153.5L237.2,150.9L241.2,148.3L243.1,144.4L237.2,137.8L233.3,132.6L234.6,130.9L235.9,122.9L244.0,120.2L249.3,118.9L254.7,121.5L261.4,125.6L266.8,126.2L270.8,120.2L265.4,117.5L260.1,118.9L256.0,112.2L250.7,105.5L252.0,100.1L249.3,92.7L257.4,94.7L266.8,98.8L270.8,102.8L274.8,104.8L277.5,110.8L282.8,111.5L278.8,106.8L276.1,102.8L272.8,97.4L270.8,88.0Z"/></clipPath>
<g clip-path="url(#clipak_a)">
<rect x="100" y="70" width="300" height="220" fill="#fee4a3"/>
<path d="M249.7,169.2L260.8,171.8L272.5,171.8L283.0,171.8L296.1,171.8L303.9,171.8L306.5,177.1L309.2,184.9L314.4,192.8L318.3,198.0L327.5,201.3L336.4,202.2L420.0,182.2L420.0,40.0L200.0,40.0L200.0,165.2L243.7,166.2Z" fill="#fdd092"/>
<path d="M237.3,138.9L241.2,148.3L249.0,153.5L259.5,157.5L269.9,161.4L280.4,162.7L293.5,162.7L305.2,162.7L310.5,167.9L313.1,175.8L315.7,184.9L319.6,192.8L327.5,195.4L338.2,197.3L420.0,177.3L420.0,40.0L200.0,40.0L200.0,134.9L231.3,135.9Z" fill="#f9b985"/>
<path d="M246.7,121.5L252.0,133.6L256.8,142.4L267.3,147.0L277.8,150.9L286.9,154.2L298.7,154.2L307.8,154.2L314.4,160.1L318.3,169.2L322.2,179.7L326.2,188.2L334.0,190.8L341.8,187.5L420.0,167.5L420.0,40.0L200.0,40.0L200.0,112.0L243.0,114.0Z" fill="#f6a277"/>
<path d="M266.8,126.9L270.8,132.3L283.0,139.2L298.7,145.0L310.5,145.7L318.3,152.2L324.8,162.7L327.5,170.5L329.4,176.4L340.5,171.8L352.3,168.2L420.0,148.2L420.0,40.0L200.0,40.0L200.0,112.0L258.0,114.0Z" fill="#f28a67"/>
<path d="M272.8,101.4L282.8,125.6L294.9,130.9L306.9,136.3L319.0,143.0L328.8,153.5L332.0,161.4L343.2,157.5L354.9,153.5L363.0,147.7L420.0,127.7L420.0,40.0L272.8,40.0Z" fill="#ee7459"/>
<path d="M277.5,90.7L281.5,102.8L289.5,116.2L300.2,121.5L313.6,128.2L324.4,136.3L334.7,147.0L345.8,144.4L356.2,142.4L364.3,137.6L420.0,117.6L420.0,40.0L277.5,40.0Z" fill="#e9604e"/>
<path d="M288.2,86.7L300.2,112.2L311.0,118.9L321.7,122.9L329.7,129.6L336.6,137.2L347.1,135.9L360.2,131.6L420.0,111.6L420.0,40.0L288.2,40.0Z" fill="#e34b41"/>
<path d="M300.2,91.4L308.3,108.1L319.0,113.5L329.7,118.9L340.4,126.9L346.5,126.2L359.2,132.3L420.0,112.3L420.0,40.0L300.2,40.0Z" fill="#dd3434"/>
<path d="M312.3,96.1L316.3,102.1L324.4,106.1L329.7,108.8L340.0,100.0L310.0,85.0Z" fill="#d71b28"/>
<path d="M215.0,174.5L249.7,169.2L260.8,173.2L272.5,173.4L283.0,173.4L296.1,173.4L303.9,173.4L306.5,178.4L309.2,186.2L314.4,194.1L318.3,199.3L327.5,202.6L336.4,203.2L336.4,211.1L215.0,211.1Z" fill="#fff6b5"/>
<path d="M330.0,204.0L345.0,205.0L390.0,205.0L390.0,290.0L330.0,290.0Z" fill="#d1ddf2"/>
<path d="M208.5,173.2L232.0,173.2L241.2,178.6L258.2,178.6L258.2,191.5L208.5,191.5Z" fill="#d1ddf2"/>
<g fill="none" stroke="#2a1f1a" stroke-width="1.0" stroke-linejoin="round">
<path d="M249.7,169.2L260.8,171.8L272.5,171.8L283.0,171.8L296.1,171.8L303.9,171.8L306.5,177.1L309.2,184.9L314.4,192.8L318.3,198.0L327.5,201.3L336.4,202.2"/>
<path d="M237.3,138.9L241.2,148.3L249.0,153.5L259.5,157.5L269.9,161.4L280.4,162.7L293.5,162.7L305.2,162.7L310.5,167.9L313.1,175.8L315.7,184.9L319.6,192.8L327.5,195.4L338.2,197.3"/>
<path d="M246.7,121.5L252.0,133.6L256.8,142.4L267.3,147.0L277.8,150.9L286.9,154.2L298.7,154.2L307.8,154.2L314.4,160.1L318.3,169.2L322.2,179.7L326.2,188.2L334.0,190.8L341.8,187.5"/>
<path d="M266.8,126.9L270.8,132.3L283.0,139.2L298.7,145.0L310.5,145.7L318.3,152.2L324.8,162.7L327.5,170.5L329.4,176.4L340.5,171.8L352.3,168.2"/>
<path d="M272.8,101.4L282.8,125.6L294.9,130.9L306.9,136.3L319.0,143.0L328.8,153.5L332.0,161.4L343.2,157.5L354.9,153.5L363.0,147.7"/>
<path d="M277.5,90.7L281.5,102.8L289.5,116.2L300.2,121.5L313.6,128.2L324.4,136.3L334.7,147.0L345.8,144.4L356.2,142.4L364.3,137.6"/>
<path d="M288.2,86.7L300.2,112.2L311.0,118.9L321.7,122.9L329.7,129.6L336.6,137.2L347.1,135.9L360.2,131.6"/>
<path d="M300.2,91.4L308.3,108.1L319.0,113.5L329.7,118.9L340.4,126.9L346.5,126.2L359.2,132.3"/>
<path d="M312.3,96.1L316.3,102.1L324.4,106.1L329.7,108.8"/>
<path d="M249.7,169.2L260.8,173.2L272.5,173.4L283.0,173.4L296.1,173.4L303.9,173.4L306.5,178.4L309.2,186.2L314.4,194.1L318.3,199.3L327.5,202.6L336.4,203.2"/>
</g></g>
<path d="M268.1,81.3L273.5,82.0L284.2,87.4L289.5,85.6L297.6,89.4L304.3,89.6L311.0,94.7L319.0,98.8L324.4,105.5L329.7,108.1L337.8,114.8L345.8,121.5L353.8,128.2L361.9,133.6L367.2,138.9L367.3,139.8L336.6,201.3L340.4,206.9L343.1,209.6L339.1,212.3L341.1,217.6L345.1,223.0L349.8,225.6L355.2,220.3L359.2,223.0L361.9,231.0L364.6,242.0L368.0,250.0L373.0,262.0L375.0,272.0L370.0,275.0L365.0,268.0L361.0,258.0L357.0,250.0L352.0,242.0L347.1,232.3L341.8,220.3L337.8,214.9L333.7,208.2L329.7,202.9L332.7,204.5L328.8,202.6L319.6,196.7L315.7,190.2L310.5,184.9L306.5,187.5L300.0,188.8L293.5,184.9L285.6,183.6L281.7,182.3L285.6,178.4L288.2,174.5L280.4,173.2L276.5,175.8L272.5,181.0L264.7,181.7L254.2,182.3L241.2,183.6L230.7,183.0L222.8,179.7L215.0,175.8L222.5,180.1L214.5,178.1L206.5,176.1L199.8,173.4L198.4,171.8L203.8,171.4L211.8,173.4L219.9,174.7L227.9,176.7L215.0,173.8L222.8,175.8L232.0,176.4L241.2,175.8L247.7,175.1L250.3,170.5L254.2,167.9L247.7,166.6L243.8,162.7L238.5,156.2L232.0,153.5L237.2,150.9L241.2,148.3L243.1,144.4L237.2,137.8L233.3,132.6L234.6,130.9L235.9,122.9L244.0,120.2L249.3,118.9L254.7,121.5L261.4,125.6L266.8,126.2L270.8,120.2L265.4,117.5L260.1,118.9L256.0,112.2L250.7,105.5L252.0,100.1L249.3,92.7L257.4,94.7L266.8,98.8L270.8,102.8L274.8,104.8L277.5,110.8L282.8,111.5L278.8,106.8L276.1,102.8L272.8,97.4L270.8,88.0Z" fill="none" stroke="#777" stroke-width="1.1" stroke-linejoin="round"/>
<path d="M345.0,214.0L350.0,222.0L347.0,230.0L354.0,236.0L358.0,228.0L362.0,238.0L360.0,248.0L366.0,256.0L364.0,264.0L370.0,268.0" fill="none" stroke="#6f747d" stroke-width="2.6" stroke-linejoin="round" opacity="0.85"/>
<path d="M352.0,226.0L356.0,240.0L352.0,250.0L358.0,258.0L362.0,250.0L367.0,262.0" fill="none" stroke="#6f747d" stroke-width="2.0" stroke-linejoin="round" opacity="0.8"/>
<path d="M225.2,91.4L227.9,90.5L230.6,96.1L235.3,104.1L231.9,103.8L229.2,100.1L227.9,95.4Z" fill="#e9604e" stroke="#777" stroke-width="1.2" stroke-linejoin="round"/>
<path d="M203.5,104.4L205.1,104.1L205.9,109.2L204.3,108.8Z" fill="#f28a67" stroke="#777" stroke-width="1.2" stroke-linejoin="round"/>
<path d="M221.9,126.9L225.2,128.0L229.2,133.6L226.8,135.2L223.2,131.6Z" fill="#fdd092" stroke="#777" stroke-width="1.2" stroke-linejoin="round"/>
<path d="M126.7,133.9L129.4,134.3L130.1,136.9L127.4,137.3Z" fill="#d1ddf2" stroke="#777" stroke-width="1.2" stroke-linejoin="round"/>
<path d="M130.4,140.6L134.8,140.3L135.5,142.7L131.2,143.0Z" fill="#d1ddf2" stroke="#777" stroke-width="1.2" stroke-linejoin="round"/>
<path d="M140.1,146.3L143.5,147.0L148.2,149.0L147.5,151.0L143.5,149.7Z" fill="#d1ddf2" stroke="#777" stroke-width="1.2" stroke-linejoin="round"/>
<path d="M168.3,167.4L174.3,166.4L179.7,168.0L185.0,168.3L190.4,170.7L189.7,173.4L183.7,172.7L178.3,170.0L173.0,168.7Z" fill="#d1ddf2" stroke="#777" stroke-width="1.2" stroke-linejoin="round"/>
<path d="M258.0,188.8L262.7,187.5L269.4,186.5L276.1,188.8L275.5,192.2L270.8,195.1L264.1,195.5L258.7,194.6Z" fill="#d1ddf2" stroke="#777" stroke-width="1.2" stroke-linejoin="round"/>
</g>
<g id="alaska_b">
<clipPath id="clipak_b"><path d="M1280.1,88.1L1285.5,88.8L1296.2,94.2L1301.5,92.4L1309.6,96.2L1316.3,96.4L1323.0,101.5L1331.0,105.6L1336.4,112.3L1341.7,114.9L1349.8,121.6L1357.8,128.3L1365.8,135.0L1373.9,140.4L1379.2,145.7L1379.3,146.6L1348.6,208.1L1352.4,213.7L1355.1,216.4L1351.1,219.1L1353.1,224.4L1357.1,229.8L1361.8,232.4L1367.2,227.1L1371.2,229.8L1373.9,237.8L1376.6,248.8L1380.0,256.8L1385.0,268.8L1387.0,278.8L1382.0,281.8L1377.0,274.8L1373.0,264.8L1369.0,256.8L1364.0,248.8L1359.1,239.1L1353.8,227.1L1349.8,221.7L1345.7,215.0L1341.7,209.7L1344.7,211.3L1340.8,209.4L1331.6,203.5L1327.7,197.0L1322.5,191.7L1318.5,194.3L1312.0,195.6L1305.5,191.7L1297.6,190.4L1293.7,189.1L1297.6,185.2L1300.2,181.3L1292.4,180.0L1288.5,182.6L1284.5,187.8L1276.7,188.5L1266.2,189.1L1253.2,190.4L1242.7,189.8L1234.8,186.5L1227.0,182.6L1234.5,186.9L1226.5,184.9L1218.5,182.9L1211.8,180.2L1210.4,178.6L1215.8,178.2L1223.8,180.2L1231.9,181.5L1239.9,183.5L1227.0,180.6L1234.8,182.6L1244.0,183.2L1253.2,182.6L1259.7,181.9L1262.3,177.3L1266.2,174.7L1259.7,173.4L1255.8,169.5L1250.5,163.0L1244.0,160.3L1249.2,157.7L1253.2,155.1L1255.1,151.2L1249.2,144.6L1245.3,139.4L1246.6,137.7L1247.9,129.7L1256.0,127.0L1261.3,125.7L1266.7,128.3L1273.4,132.4L1278.8,133.0L1282.8,127.0L1277.4,124.3L1272.1,125.7L1268.0,119.0L1262.7,112.3L1264.0,106.9L1261.3,99.5L1269.4,101.5L1278.8,105.6L1282.8,109.6L1286.8,111.6L1289.5,117.6L1294.8,118.3L1290.8,113.6L1288.1,109.6L1284.8,104.2L1282.8,94.8Z"/></clipPath>
<g clip-path="url(#clipak_b)">
<rect x="1112" y="76.8" width="300" height="220" fill="#aac3e2"/>
<path d="M1249.3,145.7L1253.2,155.1L1261.0,160.3L1271.5,164.3L1281.9,168.2L1292.4,169.5L1305.5,169.5L1317.2,169.5L1322.5,174.7L1325.1,182.6L1327.7,191.7L1331.6,199.6L1339.5,202.2L1350.2,204.1L1432.0,184.1L1432.0,46.8L1212.0,46.8L1212.0,141.7L1243.3,142.7Z" fill="#bdd0ea"/>
<path d="M1258.7,128.3L1264.0,140.4L1268.8,149.2L1279.3,153.8L1289.8,157.7L1298.9,161.0L1310.7,161.0L1319.8,161.0L1326.4,166.9L1330.3,176.0L1334.2,186.5L1338.2,195.0L1346.0,197.6L1353.8,194.3L1432.0,174.3L1432.0,46.8L1212.0,46.8L1212.0,118.8L1255.0,120.8Z" fill="#d1ddf2"/>
<path d="M1278.8,133.7L1282.8,139.1L1295.0,146.0L1310.7,151.8L1322.5,152.5L1330.3,159.0L1336.8,169.5L1339.5,177.3L1341.4,183.2L1352.5,178.6L1364.3,175.0L1432.0,155.0L1432.0,46.8L1212.0,46.8L1212.0,118.8L1270.0,120.8Z" fill="#fff6b5"/>
<path d="M1284.8,108.2L1294.8,132.4L1306.9,137.7L1318.9,143.1L1331.0,149.8L1340.8,160.3L1344.0,168.2L1355.2,164.3L1366.9,160.3L1375.0,154.5L1432.0,134.5L1432.0,46.8L1284.8,46.8Z" fill="#fdd092"/>
<path d="M1300.2,93.5L1312.2,119.0L1323.0,125.7L1333.7,129.7L1341.7,136.4L1348.6,144.0L1359.1,142.7L1372.2,138.4L1432.0,118.4L1432.0,46.8L1300.2,46.8Z" fill="#f9b985"/>
<path d="M1312.2,98.2L1320.3,114.9L1331.0,120.3L1341.7,125.7L1352.4,133.7L1358.5,133.0L1371.2,139.1L1432.0,119.1L1432.0,46.8L1312.2,46.8Z" fill="#f6a277"/>
<path d="M1342.0,210.8L1357.0,211.8L1402.0,211.8L1402.0,296.8L1342.0,296.8Z" fill="#aac3e2"/>
<path d="M1220.5,180.0L1244.0,180.0L1253.2,185.4L1270.2,185.4L1270.2,198.3L1220.5,198.3Z" fill="#aac3e2"/>
<g fill="none" stroke="#2a1f1a" stroke-width="1.0" stroke-linejoin="round">
<path d="M1249.3,145.7L1253.2,155.1L1261.0,160.3L1271.5,164.3L1281.9,168.2L1292.4,169.5L1305.5,169.5L1317.2,169.5L1322.5,174.7L1325.1,182.6L1327.7,191.7L1331.6,199.6L1339.5,202.2L1350.2,204.1"/>
<path d="M1258.7,128.3L1264.0,140.4L1268.8,149.2L1279.3,153.8L1289.8,157.7L1298.9,161.0L1310.7,161.0L1319.8,161.0L1326.4,166.9L1330.3,176.0L1334.2,186.5L1338.2,195.0L1346.0,197.6L1353.8,194.3"/>
<path d="M1278.8,133.7L1282.8,139.1L1295.0,146.0L1310.7,151.8L1322.5,152.5L1330.3,159.0L1336.8,169.5L1339.5,177.3L1341.4,183.2L1352.5,178.6L1364.3,175.0"/>
<path d="M1284.8,108.2L1294.8,132.4L1306.9,137.7L1318.9,143.1L1331.0,149.8L1340.8,160.3L1344.0,168.2L1355.2,164.3L1366.9,160.3L1375.0,154.5"/>
<path d="M1300.2,93.5L1312.2,119.0L1323.0,125.7L1333.7,129.7L1341.7,136.4L1348.6,144.0L1359.1,142.7L1372.2,138.4"/>
<path d="M1312.2,98.2L1320.3,114.9L1331.0,120.3L1341.7,125.7L1352.4,133.7L1358.5,133.0L1371.2,139.1"/>
</g></g>
<path d="M1280.1,88.1L1285.5,88.8L1296.2,94.2L1301.5,92.4L1309.6,96.2L1316.3,96.4L1323.0,101.5L1331.0,105.6L1336.4,112.3L1341.7,114.9L1349.8,121.6L1357.8,128.3L1365.8,135.0L1373.9,140.4L1379.2,145.7L1379.3,146.6L1348.6,208.1L1352.4,213.7L1355.1,216.4L1351.1,219.1L1353.1,224.4L1357.1,229.8L1361.8,232.4L1367.2,227.1L1371.2,229.8L1373.9,237.8L1376.6,248.8L1380.0,256.8L1385.0,268.8L1387.0,278.8L1382.0,281.8L1377.0,274.8L1373.0,264.8L1369.0,256.8L1364.0,248.8L1359.1,239.1L1353.8,227.1L1349.8,221.7L1345.7,215.0L1341.7,209.7L1344.7,211.3L1340.8,209.4L1331.6,203.5L1327.7,197.0L1322.5,191.7L1318.5,194.3L1312.0,195.6L1305.5,191.7L1297.6,190.4L1293.7,189.1L1297.6,185.2L1300.2,181.3L1292.4,180.0L1288.5,182.6L1284.5,187.8L1276.7,188.5L1266.2,189.1L1253.2,190.4L1242.7,189.8L1234.8,186.5L1227.0,182.6L1234.5,186.9L1226.5,184.9L1218.5,182.9L1211.8,180.2L1210.4,178.6L1215.8,178.2L1223.8,180.2L1231.9,181.5L1239.9,183.5L1227.0,180.6L1234.8,182.6L1244.0,183.2L1253.2,182.6L1259.7,181.9L1262.3,177.3L1266.2,174.7L1259.7,173.4L1255.8,169.5L1250.5,163.0L1244.0,160.3L1249.2,157.7L1253.2,155.1L1255.1,151.2L1249.2,144.6L1245.3,139.4L1246.6,137.7L1247.9,129.7L1256.0,127.0L1261.3,125.7L1266.7,128.3L1273.4,132.4L1278.8,133.0L1282.8,127.0L1277.4,124.3L1272.1,125.7L1268.0,119.0L1262.7,112.3L1264.0,106.9L1261.3,99.5L1269.4,101.5L1278.8,105.6L1282.8,109.6L1286.8,111.6L1289.5,117.6L1294.8,118.3L1290.8,113.6L1288.1,109.6L1284.8,104.2L1282.8,94.8Z" fill="none" stroke="#777" stroke-width="1.1" stroke-linejoin="round"/>
<path d="M1357.0,220.8L1362.0,228.8L1359.0,236.8L1366.0,242.8L1370.0,234.8L1374.0,244.8L1372.0,254.8L1378.0,262.8L1376.0,270.8L1382.0,274.8" fill="none" stroke="#6f747d" stroke-width="2.6" stroke-linejoin="round" opacity="0.85"/>
<path d="M1364.0,232.8L1368.0,246.8L1364.0,256.8L1370.0,264.8L1374.0,256.8L1379.0,268.8" fill="none" stroke="#6f747d" stroke-width="2.0" stroke-linejoin="round" opacity="0.8"/>
<path d="M1237.2,98.2L1239.9,97.3L1242.6,102.9L1247.3,110.9L1243.9,110.6L1241.2,106.9L1239.9,102.2Z" fill="#fff6b5" stroke="#777" stroke-width="1.2" stroke-linejoin="round"/>
<path d="M1215.5,111.2L1217.1,110.9L1217.9,116.0L1216.3,115.6Z" fill="#fff6b5" stroke="#777" stroke-width="1.2" stroke-linejoin="round"/>
<path d="M1233.9,133.7L1237.2,134.8L1241.2,140.4L1238.8,142.0L1235.2,138.4Z" fill="#bdd0ea" stroke="#777" stroke-width="1.2" stroke-linejoin="round"/>
<path d="M1138.7,140.7L1141.4,141.1L1142.1,143.7L1139.4,144.1Z" fill="#aac3e2" stroke="#777" stroke-width="1.2" stroke-linejoin="round"/>
<path d="M1142.4,147.4L1146.8,147.1L1147.5,149.5L1143.2,149.8Z" fill="#aac3e2" stroke="#777" stroke-width="1.2" stroke-linejoin="round"/>
<path d="M1152.1,153.1L1155.5,153.8L1160.2,155.8L1159.5,157.8L1155.5,156.5Z" fill="#aac3e2" stroke="#777" stroke-width="1.2" stroke-linejoin="round"/>
<path d="M1180.3,174.2L1186.3,173.2L1191.7,174.8L1197.0,175.1L1202.4,177.5L1201.7,180.2L1195.7,179.5L1190.3,176.8L1185.0,175.5Z" fill="#aac3e2" stroke="#777" stroke-width="1.2" stroke-linejoin="round"/>
<path d="M1270.0,195.6L1274.7,194.3L1281.4,193.3L1288.1,195.6L1287.5,199.0L1282.8,201.9L1276.1,202.3L1270.7,201.4Z" fill="#aac3e2" stroke="#777" stroke-width="1.2" stroke-linejoin="round"/>
</g>
<g id="hawaii_a">
<radialGradient id="hig_a" gradientUnits="userSpaceOnUse" cx="359" cy="526.5" r="17"><stop offset="0" stop-color="#fbd08a"/><stop offset="0.22" stop-color="#fdf0b8"/><stop offset="0.45" stop-color="#c3d4ee"/><stop offset="1" stop-color="#7fa3d6"/></radialGradient>
<path d="M290.0,390.4L293.7,389.6L297.5,390.4L294.3,392.0L290.5,392.0Z" fill="#86a9da" stroke="#6f7782" stroke-width="1.1" stroke-linejoin="round"/>
<path d="M304.0,395.2L307.7,393.1L313.1,393.6L317.5,397.1L318.5,401.2L315.3,404.4L310.4,405.2L306.1,402.8L304.0,399.0Z" fill="#86a9da" stroke="#6f7782" stroke-width="1.1" stroke-linejoin="round"/>
<path d="M329.9,433.0L334.7,435.1L339.6,433.5L341.2,440.3L340.6,448.6L337.4,450.0L334.7,444.3L330.4,441.1Z" fill="#86a9da" stroke="#6f7782" stroke-width="1.1" stroke-linejoin="round"/>
<path d="M345.0,460.0L348.7,458.9L353.6,464.3L359.5,469.7L357.4,471.5L350.9,467.5L346.6,463.2Z" fill="#86a9da" stroke="#6f7782" stroke-width="1.1" stroke-linejoin="round"/>
<path d="M346.6,470.7L350.3,469.7L352.0,474.0L349.8,477.2L346.6,476.1Z" fill="#86a9da" stroke="#6f7782" stroke-width="1.1" stroke-linejoin="round"/>
<path d="M355.7,475.6L360.6,474.5L362.2,480.7L367.1,484.2L370.6,491.2L366.5,493.7L360.6,491.8L356.8,486.9L357.9,481.0Z" fill="#86a9da" stroke="#6f7782" stroke-width="1.1" stroke-linejoin="round"/>
<path d="M364.4,506.3L366.5,511.7L371.1,519.8L375.1,527.9L377.3,533.3L375.7,540.0L377.3,543.5L372.5,543.0L364.4,540.0L356.3,541.4L348.2,540.8L343.3,536.5L342.8,531.9L346.8,525.2L350.9,517.1L356.3,513.3L361.7,510.6Z" fill="url(#hig_a)" stroke="#6f7782" stroke-width="1.1" stroke-linejoin="round"/>
</g>
<g id="hawaii_b">
<radialGradient id="hig_b" gradientUnits="userSpaceOnUse" cx="1352" cy="525" r="20"><stop offset="0" stop-color="#e8604c"/><stop offset="0.3" stop-color="#f29a6e"/><stop offset="0.55" stop-color="#fbd592"/><stop offset="0.75" stop-color="#fdf0b8"/><stop offset="1" stop-color="#bccdea"/></radialGradient>
<path d="M1284.0,391.4L1287.7,390.6L1291.5,391.4L1288.3,393.0L1284.5,393.0Z" fill="#b9c9e6" stroke="#6f7782" stroke-width="1.1" stroke-linejoin="round"/>
<path d="M1298.0,396.2L1301.7,394.1L1307.1,394.6L1311.5,398.1L1312.5,402.2L1309.3,405.4L1304.4,406.2L1300.1,403.8L1298.0,400.0Z" fill="#fdf0b5" stroke="#6f7782" stroke-width="1.1" stroke-linejoin="round"/>
<path d="M1323.9,434.0L1328.7,436.1L1333.6,434.5L1335.2,441.3L1334.6,449.6L1331.4,451.0L1328.7,445.3L1324.4,442.1Z" fill="#fdf0b5" stroke="#6f7782" stroke-width="1.1" stroke-linejoin="round"/>
<path d="M1339.0,461.0L1342.7,459.9L1347.6,465.3L1353.5,470.7L1351.4,472.5L1344.9,468.5L1340.6,464.2Z" fill="#fdeeb0" stroke="#6f7782" stroke-width="1.1" stroke-linejoin="round"/>
<path d="M1340.6,471.7L1344.3,470.7L1346.0,475.0L1343.8,478.2L1340.6,477.1Z" fill="#c6d5ee" stroke="#6f7782" stroke-width="1.1" stroke-linejoin="round"/>
<path d="M1349.7,476.6L1354.6,475.5L1356.2,481.7L1361.1,485.2L1364.6,492.2L1360.5,494.7L1354.6,492.8L1350.8,487.9L1351.9,482.0Z" fill="#c6d5ee" stroke="#6f7782" stroke-width="1.1" stroke-linejoin="round"/>
<path d="M1358.4,507.3L1360.5,512.7L1365.1,520.8L1369.1,528.9L1371.3,534.3L1369.7,541.0L1371.3,544.5L1366.5,544.0L1358.4,541.0L1350.3,542.4L1342.2,541.8L1337.3,537.5L1336.8,532.9L1340.8,526.2L1344.9,518.1L1350.3,514.3L1355.7,511.6Z" fill="url(#hig_b)" stroke="#6f7782" stroke-width="1.1" stroke-linejoin="round"/>
</g>
<rect x="398.00" y="562" width="27.05" height="19" fill="#2166ac" stroke="#111" stroke-width="0.9"/>
<rect x="425.05" y="562" width="27.05" height="19" fill="#3573b4" stroke="#111" stroke-width="0.9"/>
<rect x="452.10" y="562" width="27.05" height="19" fill="#4880bc" stroke="#111" stroke-width="0.9"/>
<rect x="479.14" y="562" width="27.05" height="19" fill="#5c8ec3" stroke="#111" stroke-width="0.9"/>
<rect x="506.19" y="562" width="27.05" height="19" fill="#6f9bcb" stroke="#111" stroke-width="0.9"/>
<rect x="533.24" y="562" width="27.05" height="19" fill="#83a8d3" stroke="#111" stroke-width="0.9"/>
<rect x="560.29" y="562" width="27.05" height="19" fill="#96b5db" stroke="#111" stroke-width="0.9"/>
<rect x="587.33" y="562" width="27.05" height="19" fill="#aac3e2" stroke="#111" stroke-width="0.9"/>
<rect x="614.38" y="562" width="27.05" height="19" fill="#bdd0ea" stroke="#111" stroke-width="0.9"/>
<rect x="641.43" y="562" width="27.05" height="19" fill="#d1ddf2" stroke="#111" stroke-width="0.9"/>
<rect x="668.48" y="562" width="27.05" height="19" fill="#fff6b5" stroke="#111" stroke-width="0.9"/>
<rect x="695.52" y="562" width="27.05" height="19" fill="#fee4a3" stroke="#111" stroke-width="0.9"/>
<rect x="722.57" y="562" width="27.05" height="19" fill="#fdd092" stroke="#111" stroke-width="0.9"/>
<rect x="749.62" y="562" width="27.05" height="19" fill="#f9b985" stroke="#111" stroke-width="0.9"/>
<rect x="776.67" y="562" width="27.05" height="19" fill="#f6a277" stroke="#111" stroke-width="0.9"/>
<rect x="803.71" y="562" width="27.05" height="19" fill="#f28a67" stroke="#111" stroke-width="0.9"/>
<rect x="830.76" y="562" width="27.05" height="19" fill="#ee7459" stroke="#111" stroke-width="0.9"/>
<rect x="857.81" y="562" width="27.05" height="19" fill="#e9604e" stroke="#111" stroke-width="0.9"/>
<rect x="884.86" y="562" width="27.05" height="19" fill="#e34b41" stroke="#111" stroke-width="0.9"/>
<rect x="911.90" y="562" width="27.05" height="19" fill="#dd3434" stroke="#111" stroke-width="0.9"/>
<rect x="938.95" y="562" width="27.05" height="19" fill="#d71b28" stroke="#111" stroke-width="0.9"/>
<text x="396" y="607" font-size="19" text-anchor="start" font-weight="normal" fill="#000" stroke="#000" stroke-width="0.32" stroke-linejoin="round" >0</text>
<text x="584" y="607" font-size="19" text-anchor="middle" font-weight="normal" fill="#000" stroke="#000" stroke-width="0.32" stroke-linejoin="round" >3,500</text>
<text x="774" y="607" font-size="19" text-anchor="middle" font-weight="normal" fill="#000" stroke="#000" stroke-width="0.32" stroke-linejoin="round" >7,000</text>
<text x="965" y="607" font-size="19" text-anchor="end" font-weight="normal" fill="#000" stroke="#000" stroke-width="0.32" stroke-linejoin="round" >10,500</text>
<rect x="1403.00" y="566" width="26.90" height="18" fill="#2166ac" stroke="#111" stroke-width="0.9"/>
<rect x="1429.90" y="566" width="26.90" height="18" fill="#3573b4" stroke="#111" stroke-width="0.9"/>
<rect x="1456.81" y="566" width="26.90" height="18" fill="#4880bc" stroke="#111" stroke-width="0.9"/>
<rect x="1483.71" y="566" width="26.90" height="18" fill="#5c8ec3" stroke="#111" stroke-width="0.9"/>
<rect x="1510.62" y="566" width="26.90" height="18" fill="#6f9bcb" stroke="#111" stroke-width="0.9"/>
<rect x="1537.52" y="566" width="26.90" height="18" fill="#83a8d3" stroke="#111" stroke-width="0.9"/>
<rect x="1564.43" y="566" width="26.90" height="18" fill="#96b5db" stroke="#111" stroke-width="0.9"/>
<rect x="1591.33" y="566" width="26.90" height="18" fill="#aac3e2" stroke="#111" stroke-width="0.9"/>
<rect x="1618.24" y="566" width="26.90" height="18" fill="#bdd0ea" stroke="#111" stroke-width="0.9"/>
<rect x="1645.14" y="566" width="26.90" height="18" fill="#d1ddf2" stroke="#111" stroke-width="0.9"/>
<rect x="1672.05" y="566" width="26.90" height="18" fill="#fff6b5" stroke="#111" stroke-width="0.9"/>
<rect x="1698.95" y="566" width="26.90" height="18" fill="#fee4a3" stroke="#111" stroke-width="0.9"/>
<rect x="1725.86" y="566" width="26.90" height="18" fill="#fdd092" stroke="#111" stroke-width="0.9"/>
<rect x="1752.76" y="566" width="26.90" height="18" fill="#f9b985" stroke="#111" stroke-width="0.9"/>
<rect x="1779.67" y="566" width="26.90" height="18" fill="#f6a277" stroke="#111" stroke-width="0.9"/>
<rect x="1806.57" y="566" width="26.90" height="18" fill="#f28a67" stroke="#111" stroke-width="0.9"/>
<rect x="1833.48" y="566" width="26.90" height="18" fill="#ee7459" stroke="#111" stroke-width="0.9"/>
<rect x="1860.38" y="566" width="26.90" height="18" fill="#e9604e" stroke="#111" stroke-width="0.9"/>
<rect x="1887.29" y="566" width="26.90" height="18" fill="#e34b41" stroke="#111" stroke-width="0.9"/>
<rect x="1914.19" y="566" width="26.90" height="18" fill="#dd3434" stroke="#111" stroke-width="0.9"/>
<rect x="1941.10" y="566" width="26.90" height="18" fill="#d71b28" stroke="#111" stroke-width="0.9"/>
<text x="1405" y="609.5" font-size="19" text-anchor="start" font-weight="normal" fill="#000" stroke="#000" stroke-width="0.32" stroke-linejoin="round" >0</text>
<text x="1592" y="609.5" font-size="19" text-anchor="middle" font-weight="normal" fill="#000" stroke="#000" stroke-width="0.32" stroke-linejoin="round" >3,500</text>
<text x="1781" y="609.5" font-size="19" text-anchor="middle" font-weight="normal" fill="#000" stroke="#000" stroke-width="0.32" stroke-linejoin="round" >7,000</text>
<text x="1969" y="609.5" font-size="19" text-anchor="end" font-weight="normal" fill="#000" stroke="#000" stroke-width="0.32" stroke-linejoin="round" >10,500</text>
<rect x="119.40" y="292" width="12.19" height="18" fill="#2166ac" stroke="#111" stroke-width="0.9"/>
<rect x="131.59" y="292" width="12.19" height="18" fill="#3573b4" stroke="#111" stroke-width="0.9"/>
<rect x="143.78" y="292" width="12.19" height="18" fill="#4880bc" stroke="#111" stroke-width="0.9"/>
<rect x="155.97" y="292" width="12.19" height="18" fill="#5c8ec3" stroke="#111" stroke-width="0.9"/>
<rect x="168.16" y="292" width="12.19" height="18" fill="#6f9bcb" stroke="#111" stroke-width="0.9"/>
<rect x="180.35" y="292" width="12.19" height="18" fill="#83a8d3" stroke="#111" stroke-width="0.9"/>
<rect x="192.54" y="292" width="12.19" height="18" fill="#96b5db" stroke="#111" stroke-width="0.9"/>
<rect x="204.73" y="292" width="12.19" height="18" fill="#aac3e2" stroke="#111" stroke-width="0.9"/>
<rect x="216.92" y="292" width="12.19" height="18" fill="#bdd0ea" stroke="#111" stroke-width="0.9"/>
<rect x="229.11" y="292" width="12.19" height="18" fill="#d1ddf2" stroke="#111" stroke-width="0.9"/>
<rect x="241.30" y="292" width="12.19" height="18" fill="#fff6b5" stroke="#111" stroke-width="0.9"/>
<rect x="253.50" y="292" width="12.19" height="18" fill="#fee4a3" stroke="#111" stroke-width="0.9"/>
<rect x="265.69" y="292" width="12.19" height="18" fill="#fdd092" stroke="#111" stroke-width="0.9"/>
<rect x="277.88" y="292" width="12.19" height="18" fill="#f9b985" stroke="#111" stroke-width="0.9"/>
<rect x="290.07" y="292" width="12.19" height="18" fill="#f6a277" stroke="#111" stroke-width="0.9"/>
<rect x="302.26" y="292" width="12.19" height="18" fill="#f28a67" stroke="#111" stroke-width="0.9"/>
<rect x="314.45" y="292" width="12.19" height="18" fill="#ee7459" stroke="#111" stroke-width="0.9"/>
<rect x="326.64" y="292" width="12.19" height="18" fill="#e9604e" stroke="#111" stroke-width="0.9"/>
<rect x="338.83" y="292" width="12.19" height="18" fill="#e34b41" stroke="#111" stroke-width="0.9"/>
<rect x="351.02" y="292" width="12.19" height="18" fill="#dd3434" stroke="#111" stroke-width="0.9"/>
<rect x="363.21" y="292" width="12.19" height="18" fill="#d71b28" stroke="#111" stroke-width="0.9"/>
<text x="118" y="335" font-size="19" text-anchor="start" font-weight="normal" fill="#000" stroke="#000" stroke-width="0.32" stroke-linejoin="round" >0</text>
<text x="243" y="335" font-size="19" text-anchor="middle" font-weight="normal" fill="#000" stroke="#000" stroke-width="0.32" stroke-linejoin="round" >10,000</text>
<text x="376" y="335" font-size="19" text-anchor="end" font-weight="normal" fill="#000" stroke="#000" stroke-width="0.32" stroke-linejoin="round" >20,000</text>
<rect x="1132.60" y="300.5" width="12.29" height="16.5" fill="#2166ac" stroke="#111" stroke-width="0.9"/>
<rect x="1144.89" y="300.5" width="12.29" height="16.5" fill="#3573b4" stroke="#111" stroke-width="0.9"/>
<rect x="1157.18" y="300.5" width="12.29" height="16.5" fill="#4880bc" stroke="#111" stroke-width="0.9"/>
<rect x="1169.47" y="300.5" width="12.29" height="16.5" fill="#5c8ec3" stroke="#111" stroke-width="0.9"/>
<rect x="1181.76" y="300.5" width="12.29" height="16.5" fill="#6f9bcb" stroke="#111" stroke-width="0.9"/>
<rect x="1194.05" y="300.5" width="12.29" height="16.5" fill="#83a8d3" stroke="#111" stroke-width="0.9"/>
<rect x="1206.34" y="300.5" width="12.29" height="16.5" fill="#96b5db" stroke="#111" stroke-width="0.9"/>
<rect x="1218.63" y="300.5" width="12.29" height="16.5" fill="#aac3e2" stroke="#111" stroke-width="0.9"/>
<rect x="1230.92" y="300.5" width="12.29" height="16.5" fill="#bdd0ea" stroke="#111" stroke-width="0.9"/>
<rect x="1243.21" y="300.5" width="12.29" height="16.5" fill="#d1ddf2" stroke="#111" stroke-width="0.9"/>
<rect x="1255.50" y="300.5" width="12.29" height="16.5" fill="#fff6b5" stroke="#111" stroke-width="0.9"/>
<rect x="1267.80" y="300.5" width="12.29" height="16.5" fill="#fee4a3" stroke="#111" stroke-width="0.9"/>
<rect x="1280.09" y="300.5" width="12.29" height="16.5" fill="#fdd092" stroke="#111" stroke-width="0.9"/>
<rect x="1292.38" y="300.5" width="12.29" height="16.5" fill="#f9b985" stroke="#111" stroke-width="0.9"/>
<rect x="1304.67" y="300.5" width="12.29" height="16.5" fill="#f6a277" stroke="#111" stroke-width="0.9"/>
<rect x="1316.96" y="300.5" width="12.29" height="16.5" fill="#f28a67" stroke="#111" stroke-width="0.9"/>
<rect x="1329.25" y="300.5" width="12.29" height="16.5" fill="#ee7459" stroke="#111" stroke-width="0.9"/>
<rect x="1341.54" y="300.5" width="12.29" height="16.5" fill="#e9604e" stroke="#111" stroke-width="0.9"/>
<rect x="1353.83" y="300.5" width="12.29" height="16.5" fill="#e34b41" stroke="#111" stroke-width="0.9"/>
<rect x="1366.12" y="300.5" width="12.29" height="16.5" fill="#dd3434" stroke="#111" stroke-width="0.9"/>
<rect x="1378.41" y="300.5" width="12.29" height="16.5" fill="#d71b28" stroke="#111" stroke-width="0.9"/>
<text x="1131" y="337" font-size="18" text-anchor="start" font-weight="normal" fill="#000" stroke="#000" stroke-width="0.32" stroke-linejoin="round" >0</text>
<text x="1249.3" y="337" font-size="18" text-anchor="middle" font-weight="normal" fill="#000" stroke="#000" stroke-width="0.32" stroke-linejoin="round" >10,000</text>
<text x="1391.5" y="337" font-size="18" text-anchor="end" font-weight="normal" fill="#000" stroke="#000" stroke-width="0.32" stroke-linejoin="round" >20,000</text>
<rect x="482" y="534" width="355" height="6.5" fill="#000"/>
<rect x="570.8" y="535.2" width="88.8" height="4.1" fill="#fff"/>
<text x="482" y="529" font-size="12.3" text-anchor="middle" font-weight="normal" fill="#000" stroke="#000" stroke-width="0.22" stroke-linejoin="round" >0</text>
<text x="571" y="529" font-size="12.3" text-anchor="middle" font-weight="normal" fill="#000" stroke="#000" stroke-width="0.22" stroke-linejoin="round" >600</text>
<text x="660" y="529" font-size="12.3" text-anchor="middle" font-weight="normal" fill="#000" stroke="#000" stroke-width="0.22" stroke-linejoin="round" >1,200</text>
<text x="837" y="529" font-size="12.3" text-anchor="middle" font-weight="normal" fill="#000" stroke="#000" stroke-width="0.22" stroke-linejoin="round" >2,400</text>
<text x="840" y="541" font-size="12.3" text-anchor="start" font-weight="normal" fill="#000" stroke="#000" stroke-width="0.22" stroke-linejoin="round" >km</text>
<rect x="1490" y="537" width="354" height="6.5" fill="#000"/>
<rect x="1578.5" y="538.2" width="88.5" height="4.1" fill="#fff"/>
<text x="1490" y="531.5" font-size="12.3" text-anchor="middle" font-weight="normal" fill="#000" stroke="#000" stroke-width="0.22" stroke-linejoin="round" >0</text>
<text x="1579" y="531.5" font-size="12.3" text-anchor="middle" font-weight="normal" fill="#000" stroke="#000" stroke-width="0.22" stroke-linejoin="round" >600</text>
<text x="1667" y="531.5" font-size="12.3" text-anchor="middle" font-weight="normal" fill="#000" stroke="#000" stroke-width="0.22" stroke-linejoin="round" >1,200</text>
<text x="1844" y="531.5" font-size="12.3" text-anchor="middle" font-weight="normal" fill="#000" stroke="#000" stroke-width="0.22" stroke-linejoin="round" >2,400</text>
<text x="1847" y="544" font-size="12.3" text-anchor="start" font-weight="normal" fill="#000" stroke="#000" stroke-width="0.22" stroke-linejoin="round" >km</text>
<rect x="150.3" y="270.3" width="151.7" height="6.199999999999989" fill="#000"/>
<rect x="188.2" y="271.5" width="37.9" height="3.8" fill="#fff"/>
<text x="151" y="265" font-size="12.3" text-anchor="middle" font-weight="normal" fill="#000" stroke="#000" stroke-width="0.22" stroke-linejoin="round" >0</text>
<text x="188.5" y="265" font-size="12.3" text-anchor="middle" font-weight="normal" fill="#000" stroke="#000" stroke-width="0.22" stroke-linejoin="round" >450</text>
<text x="226.5" y="265" font-size="12.3" text-anchor="middle" font-weight="normal" fill="#000" stroke="#000" stroke-width="0.22" stroke-linejoin="round" >900</text>
<text x="302" y="265" font-size="12.3" text-anchor="middle" font-weight="normal" fill="#000" stroke="#000" stroke-width="0.22" stroke-linejoin="round" >1,800</text>
<text x="305" y="277" font-size="12.3" text-anchor="start" font-weight="normal" fill="#000" stroke="#000" stroke-width="0.22" stroke-linejoin="round" >km</text>
<rect x="1161" y="275" width="150" height="6" fill="#000"/>
<rect x="1198.5" y="276.2" width="37.5" height="3.6" fill="#fff"/>
<text x="1162" y="270" font-size="12.3" text-anchor="middle" font-weight="normal" fill="#000" stroke="#000" stroke-width="0.22" stroke-linejoin="round" >0</text>
<text x="1198" y="270" font-size="12.3" text-anchor="middle" font-weight="normal" fill="#000" stroke="#000" stroke-width="0.22" stroke-linejoin="round" >450</text>
<text x="1235.5" y="270" font-size="12.3" text-anchor="middle" font-weight="normal" fill="#000" stroke="#000" stroke-width="0.22" stroke-linejoin="round" >900</text>
<text x="1311" y="270" font-size="12.3" text-anchor="middle" font-weight="normal" fill="#000" stroke="#000" stroke-width="0.22" stroke-linejoin="round" >1,800</text>
<text x="1314" y="281.5" font-size="12.3" text-anchor="start" font-weight="normal" fill="#000" stroke="#000" stroke-width="0.22" stroke-linejoin="round" >km</text>
<rect x="150.5" y="541.5" width="111.0" height="6.5" fill="#000"/>
<rect x="178.2" y="542.7" width="27.8" height="4.1" fill="#fff"/>
<text x="151" y="537" font-size="12.3" text-anchor="middle" font-weight="normal" fill="#000" stroke="#000" stroke-width="0.22" stroke-linejoin="round" >0</text>
<text x="178" y="537" font-size="12.3" text-anchor="middle" font-weight="normal" fill="#000" stroke="#000" stroke-width="0.22" stroke-linejoin="round" >100</text>
<text x="206" y="537" font-size="12.3" text-anchor="middle" font-weight="normal" fill="#000" stroke="#000" stroke-width="0.22" stroke-linejoin="round" >200</text>
<text x="261" y="537" font-size="12.3" text-anchor="middle" font-weight="normal" fill="#000" stroke="#000" stroke-width="0.22" stroke-linejoin="round" >400</text>
<text x="264.5" y="549" font-size="12.3" text-anchor="start" font-weight="normal" fill="#000" stroke="#000" stroke-width="0.22" stroke-linejoin="round" >km</text>
<rect x="1161" y="544" width="110" height="6.5" fill="#000"/>
<rect x="1188.5" y="545.2" width="27.5" height="4.1" fill="#fff"/>
<text x="1161" y="539.5" font-size="12.3" text-anchor="middle" font-weight="normal" fill="#000" stroke="#000" stroke-width="0.22" stroke-linejoin="round" >0</text>
<text x="1189" y="539.5" font-size="12.3" text-anchor="middle" font-weight="normal" fill="#000" stroke="#000" stroke-width="0.22" stroke-linejoin="round" >100</text>
<text x="1216.5" y="539.5" font-size="12.3" text-anchor="middle" font-weight="normal" fill="#000" stroke="#000" stroke-width="0.22" stroke-linejoin="round" >200</text>
<text x="1271" y="539.5" font-size="12.3" text-anchor="middle" font-weight="normal" fill="#000" stroke="#000" stroke-width="0.22" stroke-linejoin="round" >400</text>
<text x="1274.5" y="551.5" font-size="12.3" text-anchor="start" font-weight="normal" fill="#000" stroke="#000" stroke-width="0.22" stroke-linejoin="round" >km</text>
</svg>
</body>
</html>
